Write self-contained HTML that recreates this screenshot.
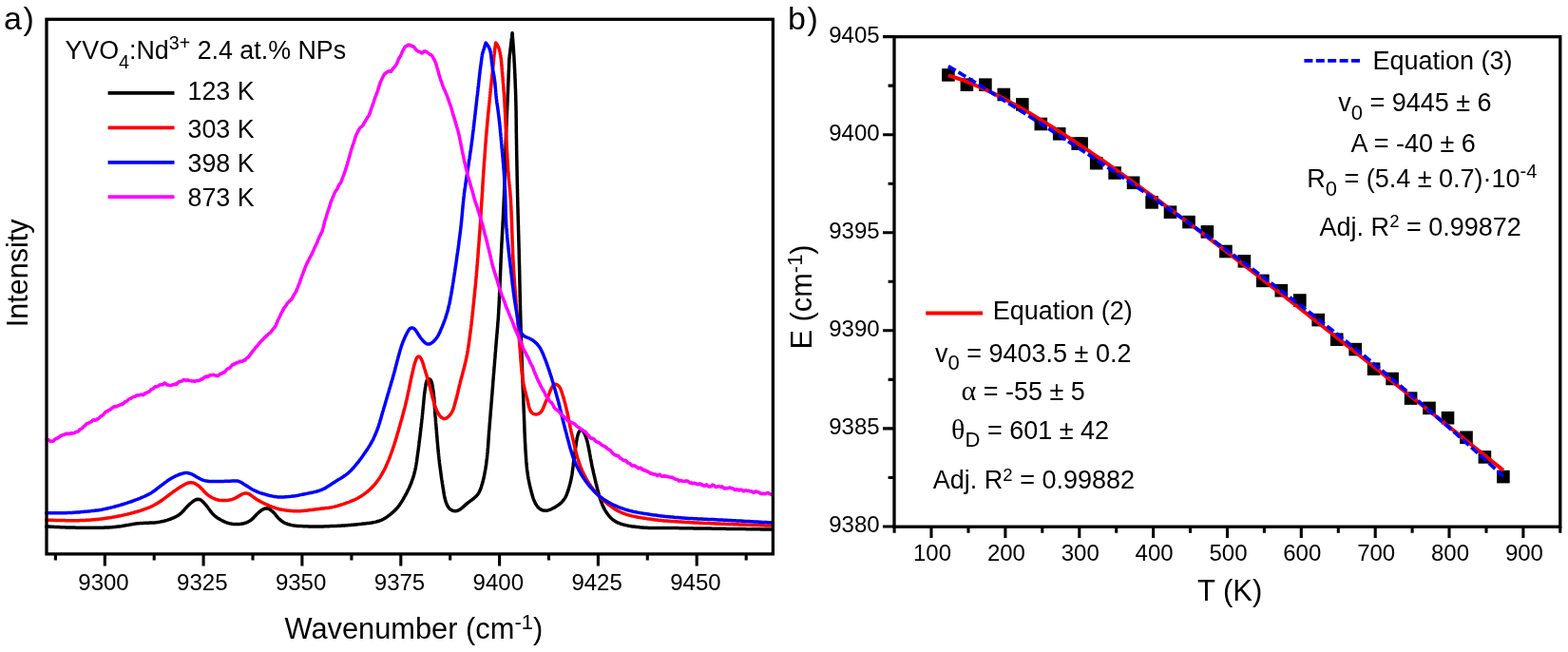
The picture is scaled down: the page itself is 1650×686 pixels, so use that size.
<!DOCTYPE html>
<html><head><meta charset="utf-8"><title>Figure</title>
<style>html,body{margin:0;padding:0;background:#fff;}svg{display:block;}</style>
</head><body>
<svg width="1650" height="686" viewBox="0 0 1650 686"><rect x="0" y="0" width="1650" height="686" fill="#fff"/><g fill="none" stroke-width="3.5" stroke-linejoin="round" stroke-linecap="round"><path d="M48.7,554.0 L50.2,554.1 L51.7,554.1 L53.2,554.2 L54.7,554.3 L56.2,554.3 L57.7,554.4 L59.2,554.5 L60.7,554.5 L62.2,554.6 L63.7,554.7 L65.2,554.7 L66.7,554.8 L68.2,554.8 L69.7,554.9 L71.2,554.9 L72.7,555.0 L74.2,555.0 L75.7,555.1 L77.2,555.1 L78.7,555.1 L80.2,555.2 L81.7,555.2 L83.2,555.2 L84.7,555.2 L86.2,555.2 L87.7,555.3 L89.2,555.3 L90.7,555.3 L92.2,555.3 L93.7,555.3 L95.2,555.3 L96.7,555.3 L98.2,555.3 L99.7,555.3 L101.2,555.3 L102.7,555.3 L104.2,555.2 L105.7,555.2 L107.2,555.2 L108.7,555.2 L110.2,555.1 L111.7,555.0 L113.2,555.0 L114.7,554.9 L116.2,554.8 L117.7,554.7 L119.2,554.6 L120.7,554.5 L122.1,554.3 L123.6,554.1 L125.1,553.9 L126.6,553.7 L128.1,553.5 L129.6,553.2 L131.0,553.0 L132.5,552.7 L134.0,552.4 L135.5,552.2 L136.9,551.9 L138.4,551.7 L139.9,551.4 L141.4,551.2 L142.9,551.0 L144.4,550.8 L145.9,550.7 L147.4,550.6 L148.9,550.5 L150.3,550.4 L151.8,550.3 L153.3,550.3 L154.8,550.2 L156.3,550.2 L157.8,550.1 L159.3,550.1 L160.8,550.0 L162.3,549.9 L163.8,549.7 L165.3,549.6 L166.8,549.4 L168.3,549.1 L169.8,548.8 L171.2,548.5 L172.7,548.2 L174.1,547.8 L175.6,547.4 L177.0,546.9 L178.4,546.5 L179.8,546.0 L181.2,545.4 L182.6,544.8 L184.0,544.2 L185.3,543.5 L186.6,542.8 L187.9,542.0 L189.1,541.1 L190.2,540.2 L191.3,539.2 L192.4,538.1 L193.4,537.0 L194.4,535.9 L195.4,534.7 L196.4,533.6 L197.4,532.5 L198.5,531.5 L199.6,530.4 L200.7,529.5 L201.9,528.5 L203.0,527.6 L204.3,526.8 L205.6,526.0 L206.9,525.5 L208.3,525.2 L209.7,525.4 L211.0,525.9 L212.2,526.7 L213.3,527.7 L214.3,528.8 L215.3,529.9 L216.3,531.0 L217.3,532.1 L218.2,533.3 L219.1,534.5 L220.0,535.7 L220.9,536.9 L221.7,538.2 L222.7,539.3 L223.6,540.5 L224.7,541.5 L225.8,542.6 L226.9,543.5 L228.1,544.4 L229.4,545.2 L230.7,546.0 L231.9,546.8 L233.3,547.5 L234.6,548.2 L236.0,548.8 L237.3,549.4 L238.7,550.0 L240.1,550.4 L241.6,550.8 L243.1,551.1 L244.5,551.3 L246.0,551.4 L247.5,551.5 L249.0,551.6 L250.5,551.5 L252.0,551.4 L253.5,551.3 L255.0,551.0 L256.4,550.7 L257.9,550.3 L259.3,549.8 L260.7,549.2 L262.0,548.5 L263.3,547.8 L264.5,546.9 L265.6,545.9 L266.7,544.9 L267.7,543.8 L268.7,542.7 L269.7,541.6 L270.8,540.5 L271.9,539.5 L273.0,538.5 L274.2,537.6 L275.4,536.7 L276.7,535.9 L278.0,535.3 L279.4,534.9 L280.8,534.8 L282.2,535.1 L283.5,535.7 L284.7,536.5 L285.9,537.4 L287.0,538.4 L288.1,539.4 L289.1,540.5 L290.1,541.7 L291.0,542.9 L291.9,544.0 L292.9,545.2 L293.9,546.2 L295.1,547.2 L296.2,548.1 L297.5,548.9 L298.8,549.7 L300.1,550.4 L301.5,551.0 L302.9,551.5 L304.3,551.9 L305.8,552.3 L307.2,552.6 L308.7,552.9 L310.2,553.1 L311.7,553.2 L313.2,553.4 L314.7,553.5 L316.2,553.6 L317.7,553.6 L319.2,553.7 L320.7,553.7 L322.2,553.8 L323.7,553.8 L325.2,553.9 L326.7,553.9 L328.2,553.9 L329.7,554.0 L331.2,554.0 L332.7,554.0 L334.2,554.0 L335.7,554.0 L337.2,553.9 L338.7,553.9 L340.2,553.9 L341.7,553.8 L343.2,553.8 L344.7,553.7 L346.2,553.7 L347.7,553.6 L349.2,553.6 L350.7,553.5 L352.2,553.4 L353.7,553.4 L355.2,553.3 L356.7,553.2 L358.1,553.2 L359.6,553.1 L361.1,553.0 L362.6,552.9 L364.1,552.8 L365.6,552.7 L367.1,552.6 L368.6,552.5 L370.1,552.3 L371.6,552.2 L373.1,552.0 L374.6,551.9 L376.1,551.7 L377.6,551.6 L379.1,551.4 L380.6,551.3 L382.1,551.1 L383.5,550.9 L385.0,550.8 L386.5,550.6 L388.0,550.4 L389.5,550.2 L391.0,550.0 L392.5,549.7 L393.9,549.4 L395.4,549.1 L396.8,548.7 L398.3,548.3 L399.7,547.8 L401.1,547.3 L402.5,546.7 L403.8,546.0 L405.1,545.2 L406.4,544.4 L407.6,543.6 L408.8,542.7 L410.0,541.8 L411.2,540.9 L412.3,539.9 L413.5,538.9 L414.6,537.9 L415.7,536.9 L416.7,535.8 L417.7,534.7 L418.7,533.6 L419.6,532.4 L420.5,531.2 L421.3,529.9 L422.2,528.7 L423.0,527.4 L423.7,526.1 L424.5,524.8 L425.2,523.5 L426.0,522.2 L426.7,520.9 L427.4,519.6 L428.1,518.3 L428.8,516.9 L429.4,515.6 L430.1,514.2 L430.7,512.9 L431.3,511.5 L431.9,510.1 L432.5,508.7 L433.0,507.3 L433.5,505.9 L434.0,504.5 L434.5,503.1 L435.0,501.7 L435.4,500.2 L435.8,498.8 L436.2,497.3 L436.5,495.9 L436.9,494.4 L437.2,492.9 L437.5,491.5 L437.7,490.0 L438.0,488.5 L438.2,487.0 L438.5,485.6 L438.7,484.1 L438.9,482.6 L439.1,481.1 L439.3,479.6 L439.5,478.1 L439.7,476.6 L439.9,475.2 L440.1,473.7 L440.3,472.2 L440.5,470.7 L440.7,469.2 L440.9,467.7 L441.0,466.2 L441.2,464.7 L441.4,463.2 L441.6,461.8 L441.8,460.3 L442.0,458.8 L442.2,457.3 L442.3,455.8 L442.5,454.3 L442.7,452.8 L442.8,451.3 L443.0,449.8 L443.2,448.4 L443.3,446.9 L443.5,445.4 L443.7,443.9 L443.8,442.4 L444.0,440.9 L444.2,439.4 L444.3,437.9 L444.5,436.4 L444.6,434.9 L444.8,433.4 L444.9,431.9 L445.1,430.5 L445.2,429.0 L445.4,427.5 L445.5,426.0 L445.7,424.5 L445.8,423.0 L445.9,421.5 L446.1,420.0 L446.2,418.5 L446.4,417.0 L446.5,415.5 L446.7,414.0 L446.9,412.5 L447.1,411.1 L447.3,409.6 L447.5,408.1 L447.8,406.6 L448.0,405.1 L448.2,403.7 L448.6,402.2 L449.0,400.8 L449.7,399.7 L450.6,398.9 L451.7,398.8 L452.7,399.3 L453.5,400.4 L454.1,401.7 L454.5,403.1 L454.8,404.6 L455.1,406.0 L455.3,407.5 L455.6,409.0 L455.8,410.5 L456.0,412.0 L456.2,413.5 L456.4,414.9 L456.5,416.4 L456.7,417.9 L456.8,419.4 L456.9,420.9 L457.0,422.4 L457.1,423.9 L457.2,425.4 L457.3,426.9 L457.4,428.4 L457.5,429.9 L457.6,431.4 L457.7,432.9 L457.8,434.4 L457.9,435.9 L458.0,437.4 L458.2,438.9 L458.3,440.4 L458.4,441.9 L458.5,443.4 L458.6,444.9 L458.8,446.4 L458.9,447.8 L459.0,449.3 L459.1,450.8 L459.3,452.3 L459.4,453.8 L459.5,455.3 L459.6,456.8 L459.7,458.3 L459.9,459.8 L460.0,461.3 L460.1,462.8 L460.2,464.3 L460.4,465.8 L460.5,467.3 L460.6,468.8 L460.7,470.3 L460.9,471.8 L461.0,473.3 L461.2,474.8 L461.3,476.2 L461.5,477.7 L461.6,479.2 L461.8,480.7 L461.9,482.2 L462.1,483.7 L462.3,485.2 L462.4,486.7 L462.6,488.2 L462.8,489.7 L463.0,491.1 L463.2,492.6 L463.4,494.1 L463.6,495.6 L463.8,497.1 L464.0,498.6 L464.2,500.1 L464.4,501.6 L464.6,503.0 L464.8,504.5 L465.1,506.0 L465.3,507.5 L465.5,509.0 L465.8,510.5 L466.0,511.9 L466.2,513.4 L466.5,514.9 L466.7,516.4 L466.9,517.9 L467.2,519.3 L467.4,520.8 L467.7,522.3 L468.0,523.8 L468.4,525.2 L468.8,526.7 L469.2,528.1 L469.7,529.5 L470.3,530.9 L470.9,532.2 L471.7,533.5 L472.6,534.7 L473.7,535.7 L474.9,536.5 L476.2,537.2 L477.6,537.6 L479.0,537.8 L480.4,537.6 L481.8,537.2 L483.1,536.5 L484.4,535.7 L485.6,534.9 L486.8,533.9 L487.9,532.9 L489.0,531.9 L490.1,530.9 L491.2,529.9 L492.4,529.0 L493.6,528.1 L494.8,527.2 L496.0,526.3 L497.2,525.4 L498.4,524.5 L499.5,523.5 L500.6,522.5 L501.7,521.4 L502.6,520.3 L503.5,519.1 L504.2,517.8 L504.9,516.4 L505.5,515.1 L506.0,513.7 L506.5,512.2 L506.9,510.8 L507.3,509.4 L507.8,507.9 L508.2,506.5 L508.5,505.0 L508.9,503.6 L509.2,502.1 L509.5,500.6 L509.8,499.2 L510.1,497.7 L510.4,496.2 L510.6,494.7 L510.9,493.3 L511.1,491.8 L511.3,490.3 L511.6,488.8 L511.8,487.3 L511.9,485.8 L512.1,484.4 L512.3,482.9 L512.5,481.4 L512.6,479.9 L512.8,478.4 L512.9,476.9 L513.1,475.4 L513.2,473.9 L513.3,472.4 L513.5,470.9 L513.6,469.4 L513.7,467.9 L513.8,466.4 L513.9,464.9 L514.0,463.4 L514.1,461.9 L514.2,460.4 L514.3,459.0 L514.4,457.5 L514.5,456.0 L514.6,454.5 L514.7,453.0 L514.9,451.5 L515.0,450.0 L515.1,448.5 L515.2,447.0 L515.3,445.5 L515.5,444.0 L515.6,442.5 L515.7,441.0 L515.8,439.5 L516.0,438.0 L516.1,436.5 L516.2,435.0 L516.3,433.5 L516.4,432.0 L516.6,430.5 L516.7,429.0 L516.8,427.6 L516.9,426.1 L517.0,424.6 L517.2,423.1 L517.3,421.6 L517.4,420.1 L517.5,418.6 L517.6,417.1 L517.8,415.6 L517.9,414.1 L518.0,412.6 L518.1,411.1 L518.2,409.6 L518.4,408.1 L518.5,406.6 L518.6,405.1 L518.7,403.6 L518.8,402.1 L518.9,400.6 L519.1,399.1 L519.2,397.6 L519.3,396.2 L519.4,394.7 L519.5,393.2 L519.7,391.7 L519.8,390.2 L519.9,388.7 L520.0,387.2 L520.1,385.7 L520.3,384.2 L520.4,382.7 L520.5,381.2 L520.6,379.7 L520.7,378.2 L520.9,376.7 L521.0,375.2 L521.1,373.7 L521.2,372.2 L521.3,370.7 L521.5,369.2 L521.6,367.7 L521.7,366.2 L521.8,364.8 L521.9,363.3 L522.1,361.8 L522.2,360.3 L522.3,358.8 L522.4,357.3 L522.6,355.8 L522.7,354.3 L522.8,352.8 L523.0,351.3 L523.1,349.8 L523.2,348.3 L523.3,346.8 L523.5,345.3 L523.6,343.8 L523.7,342.3 L523.8,340.8 L523.9,339.3 L524.1,337.8 L524.2,336.3 L524.3,334.9 L524.4,333.4 L524.5,331.9 L524.6,330.4 L524.7,328.9 L524.7,327.4 L524.8,325.9 L524.9,324.4 L525.0,322.9 L525.1,321.4 L525.2,319.9 L525.2,318.4 L525.3,316.9 L525.4,315.4 L525.4,313.9 L525.5,312.4 L525.6,310.9 L525.6,309.4 L525.7,307.9 L525.8,306.4 L525.8,304.9 L525.9,303.4 L526.0,301.9 L526.0,300.4 L526.1,298.9 L526.2,297.4 L526.2,295.9 L526.3,294.4 L526.3,292.9 L526.4,291.4 L526.5,289.9 L526.5,288.4 L526.6,286.9 L526.6,285.4 L526.7,283.9 L526.8,282.4 L526.8,280.9 L526.9,279.4 L526.9,277.9 L527.0,276.4 L527.1,274.9 L527.1,273.4 L527.2,271.9 L527.3,270.4 L527.3,268.9 L527.4,267.4 L527.5,265.9 L527.6,264.4 L527.6,262.9 L527.7,261.4 L527.8,259.9 L527.8,258.4 L527.9,256.9 L528.0,255.4 L528.1,253.9 L528.2,252.4 L528.2,250.9 L528.3,249.5 L528.4,248.0 L528.5,246.5 L528.6,245.0 L528.6,243.5 L528.7,242.0 L528.8,240.5 L528.9,239.0 L529.0,237.5 L529.0,236.0 L529.1,234.5 L529.2,233.0 L529.3,231.5 L529.4,230.0 L529.4,228.5 L529.5,227.0 L529.6,225.5 L529.7,224.0 L529.7,222.5 L529.8,221.0 L529.9,219.5 L529.9,218.0 L530.0,216.5 L530.1,215.0 L530.1,213.5 L530.2,212.0 L530.3,210.5 L530.3,209.0 L530.4,207.5 L530.5,206.0 L530.5,204.5 L530.6,203.0 L530.6,201.5 L530.7,200.0 L530.7,198.5 L530.8,197.0 L530.8,195.5 L530.9,194.0 L530.9,192.5 L531.0,191.0 L531.0,189.5 L531.1,188.0 L531.1,186.5 L531.2,185.0 L531.2,183.5 L531.3,182.0 L531.3,180.5 L531.4,179.0 L531.4,177.5 L531.5,176.0 L531.5,174.5 L531.5,173.0 L531.6,171.5 L531.6,170.0 L531.7,168.5 L531.7,167.0 L531.8,165.5 L531.8,164.0 L531.9,162.5 L531.9,161.0 L532.0,159.5 L532.0,158.0 L532.0,156.5 L532.1,155.0 L532.1,153.5 L532.2,152.0 L532.2,150.5 L532.3,149.0 L532.3,147.5 L532.4,146.0 L532.4,144.5 L532.5,143.0 L532.5,141.5 L532.6,140.0 L532.7,138.5 L532.7,137.0 L532.8,135.5 L532.8,134.0 L532.9,132.5 L533.0,131.0 L533.0,129.5 L533.1,128.0 L533.1,126.5 L533.2,125.1 L533.3,123.6 L533.3,122.1 L533.4,120.6 L533.5,119.1 L533.5,117.6 L533.6,116.1 L533.7,114.6 L533.7,113.1 L533.8,111.6 L533.9,110.1 L533.9,108.6 L534.0,107.1 L534.1,105.6 L534.1,104.1 L534.2,102.6 L534.3,101.1 L534.3,99.6 L534.4,98.1 L534.5,96.6 L534.5,95.1 L534.6,93.6 L534.6,92.1 L534.7,90.6 L534.8,89.1 L534.8,87.6 L534.9,86.1 L535.0,84.6 L535.0,83.1 L535.1,81.6 L535.1,80.1 L535.2,78.6 L535.3,77.1 L535.3,75.6 L535.4,74.1 L535.5,72.6 L535.5,71.1 L535.6,69.6 L535.6,68.1 L535.7,66.6 L535.8,65.1 L535.8,63.6 L535.9,62.1 L536.1,60.5 L536.2,59.0 L536.4,57.5 L536.6,56.0 L536.8,54.6 L536.9,53.1 L537.1,51.6 L537.3,50.1 L537.5,48.6 L537.6,47.1 L537.8,45.6 L538.0,44.1 L538.2,42.6 L538.3,41.1 L538.5,39.7 L538.7,38.2 L538.8,36.7 L539.0,35.2 L539.1,34.7 L539.2,36.0 L539.3,37.5 L539.4,39.0 L539.5,40.5 L539.7,42.0 L539.8,43.5 L539.9,45.0 L540.0,46.5 L540.1,48.0 L540.2,49.5 L540.3,51.0 L540.4,52.5 L540.5,53.9 L540.6,55.4 L540.7,56.9 L540.8,58.4 L540.9,59.9 L541.0,61.4 L541.0,62.9 L541.1,64.4 L541.2,65.9 L541.3,67.4 L541.4,68.9 L541.4,70.4 L541.5,71.9 L541.6,73.4 L541.7,74.9 L541.7,76.4 L541.8,77.9 L541.9,79.4 L541.9,80.9 L542.0,82.4 L542.1,83.9 L542.1,85.4 L542.2,86.9 L542.2,88.4 L542.3,89.9 L542.3,91.4 L542.4,92.9 L542.5,94.4 L542.5,95.9 L542.6,97.4 L542.6,98.9 L542.7,100.4 L542.7,101.9 L542.7,103.4 L542.8,104.9 L542.8,106.4 L542.9,107.9 L542.9,109.4 L542.9,110.9 L543.0,112.4 L543.0,113.9 L543.0,115.4 L543.1,116.9 L543.1,118.4 L543.1,119.9 L543.1,121.4 L543.1,122.9 L543.2,124.4 L543.2,125.9 L543.2,127.4 L543.2,128.9 L543.2,130.4 L543.3,131.9 L543.3,133.4 L543.3,134.9 L543.3,136.4 L543.3,137.9 L543.3,139.4 L543.4,140.9 L543.4,142.4 L543.4,143.9 L543.4,145.4 L543.5,146.9 L543.5,148.4 L543.5,149.9 L543.5,151.4 L543.6,152.9 L543.6,154.4 L543.6,155.9 L543.6,157.4 L543.7,158.9 L543.7,160.4 L543.7,161.9 L543.7,163.4 L543.8,164.9 L543.8,166.4 L543.8,167.9 L543.9,169.4 L543.9,170.9 L543.9,172.4 L543.9,173.9 L544.0,175.4 L544.0,176.9 L544.0,178.4 L544.1,179.9 L544.1,181.4 L544.1,182.9 L544.1,184.4 L544.2,185.9 L544.2,187.4 L544.2,188.9 L544.3,190.4 L544.3,191.9 L544.3,193.4 L544.4,194.9 L544.4,196.4 L544.4,197.9 L544.5,199.4 L544.5,200.9 L544.5,202.4 L544.6,203.9 L544.6,205.4 L544.6,206.9 L544.7,208.4 L544.7,209.9 L544.7,211.4 L544.8,212.9 L544.8,214.4 L544.8,215.9 L544.9,217.4 L544.9,218.9 L545.0,220.4 L545.0,221.9 L545.0,223.4 L545.1,224.9 L545.1,226.4 L545.2,227.9 L545.2,229.4 L545.2,230.9 L545.3,232.4 L545.3,233.9 L545.4,235.4 L545.4,236.9 L545.5,238.4 L545.5,239.9 L545.5,241.4 L545.6,242.9 L545.6,244.4 L545.7,245.9 L545.7,247.4 L545.8,248.9 L545.8,250.4 L545.8,251.9 L545.9,253.4 L545.9,254.9 L546.0,256.4 L546.0,257.9 L546.0,259.4 L546.1,260.9 L546.1,262.4 L546.2,263.9 L546.2,265.4 L546.2,266.9 L546.3,268.4 L546.3,269.9 L546.3,271.4 L546.4,272.9 L546.4,274.4 L546.4,275.9 L546.5,277.4 L546.5,278.9 L546.6,280.4 L546.6,281.9 L546.6,283.4 L546.7,284.9 L546.7,286.4 L546.7,287.9 L546.8,289.4 L546.8,290.9 L546.8,292.3 L546.8,293.8 L546.9,295.3 L546.9,296.8 L546.9,298.3 L547.0,299.8 L547.0,301.3 L547.0,302.8 L547.1,304.3 L547.1,305.8 L547.1,307.3 L547.2,308.8 L547.2,310.3 L547.2,311.8 L547.3,313.3 L547.3,314.8 L547.3,316.3 L547.4,317.8 L547.4,319.3 L547.4,320.8 L547.5,322.3 L547.5,323.8 L547.5,325.3 L547.6,326.8 L547.6,328.3 L547.7,329.8 L547.7,331.3 L547.7,332.8 L547.8,334.3 L547.8,335.8 L547.9,337.3 L547.9,338.8 L547.9,340.3 L548.0,341.8 L548.0,343.3 L548.1,344.8 L548.1,346.3 L548.1,347.8 L548.2,349.3 L548.2,350.8 L548.3,352.3 L548.3,353.8 L548.4,355.3 L548.4,356.8 L548.5,358.3 L548.5,359.8 L548.6,361.3 L548.6,362.8 L548.7,364.3 L548.7,365.8 L548.8,367.3 L548.8,368.8 L548.9,370.3 L548.9,371.8 L549.0,373.3 L549.0,374.8 L549.1,376.3 L549.2,377.8 L549.2,379.3 L549.3,380.8 L549.3,382.3 L549.4,383.8 L549.4,385.3 L549.5,386.8 L549.5,388.3 L549.6,389.8 L549.6,391.3 L549.7,392.8 L549.8,394.3 L549.8,395.8 L549.9,397.3 L549.9,398.8 L550.0,400.3 L550.0,401.8 L550.1,403.3 L550.2,404.8 L550.2,406.3 L550.3,407.8 L550.3,409.3 L550.4,410.8 L550.4,412.3 L550.5,413.8 L550.6,415.3 L550.6,416.8 L550.7,418.3 L550.7,419.8 L550.8,421.3 L550.8,422.8 L550.9,424.3 L551.0,425.8 L551.0,427.3 L551.1,428.8 L551.1,430.3 L551.2,431.8 L551.3,433.3 L551.3,434.8 L551.4,436.3 L551.4,437.8 L551.5,439.3 L551.5,440.8 L551.6,442.3 L551.7,443.8 L551.7,445.3 L551.8,446.8 L551.8,448.3 L551.9,449.8 L551.9,451.3 L552.0,452.8 L552.0,454.3 L552.1,455.8 L552.2,457.3 L552.2,458.8 L552.3,460.3 L552.4,461.8 L552.4,463.3 L552.5,464.8 L552.6,466.2 L552.7,467.7 L552.8,469.2 L552.8,470.7 L552.9,472.2 L553.0,473.7 L553.1,475.2 L553.2,476.7 L553.3,478.2 L553.4,479.7 L553.5,481.2 L553.6,482.7 L553.7,484.2 L553.8,485.7 L554.0,487.2 L554.1,488.7 L554.2,490.2 L554.4,491.7 L554.5,493.2 L554.7,494.7 L554.9,496.2 L555.1,497.6 L555.3,499.1 L555.5,500.6 L555.8,502.1 L556.0,503.6 L556.3,505.0 L556.6,506.5 L556.9,508.0 L557.2,509.5 L557.5,510.9 L557.9,512.4 L558.2,513.8 L558.6,515.3 L559.0,516.7 L559.3,518.2 L559.7,519.6 L560.1,521.1 L560.6,522.5 L561.0,524.0 L561.5,525.4 L562.1,526.8 L562.7,528.1 L563.3,529.5 L564.1,530.8 L564.9,532.0 L565.8,533.2 L566.8,534.3 L567.9,535.2 L569.2,536.1 L570.5,536.7 L571.9,537.1 L573.3,537.3 L574.8,537.2 L576.3,537.0 L577.7,536.6 L579.1,536.1 L580.5,535.5 L581.8,534.8 L583.2,534.1 L584.5,533.4 L585.7,532.6 L587.0,531.8 L588.2,530.9 L589.4,530.0 L590.5,529.0 L591.5,527.9 L592.5,526.8 L593.4,525.6 L594.2,524.4 L595.0,523.1 L595.7,521.7 L596.3,520.4 L596.8,519.0 L597.3,517.6 L597.8,516.1 L598.3,514.7 L598.7,513.3 L599.1,511.8 L599.5,510.4 L599.9,508.9 L600.2,507.5 L600.6,506.0 L600.9,504.6 L601.2,503.1 L601.5,501.6 L601.8,500.1 L602.0,498.7 L602.2,497.2 L602.4,495.7 L602.6,494.2 L602.8,492.7 L603.0,491.2 L603.2,489.7 L603.3,488.3 L603.5,486.8 L603.7,485.3 L603.9,483.8 L604.1,482.3 L604.3,480.8 L604.5,479.3 L604.7,477.8 L604.9,476.4 L605.1,474.9 L605.3,473.4 L605.5,471.9 L605.8,470.4 L606.0,468.9 L606.2,467.4 L606.4,466.0 L606.6,464.5 L606.9,463.0 L607.1,461.5 L607.4,460.1 L607.8,458.6 L608.2,457.2 L608.7,455.8 L609.3,454.4 L610.0,453.3 L610.9,452.6 L612.0,452.6 L613.0,453.2 L613.9,454.2 L614.7,455.5 L615.3,456.8 L615.9,458.1 L616.5,459.5 L616.9,461.0 L617.4,462.4 L617.8,463.8 L618.2,465.3 L618.5,466.8 L618.8,468.2 L619.1,469.7 L619.4,471.2 L619.7,472.6 L620.0,474.1 L620.3,475.6 L620.5,477.1 L620.8,478.5 L621.1,480.0 L621.3,481.5 L621.6,483.0 L621.9,484.4 L622.2,485.9 L622.4,487.4 L622.7,488.9 L623.0,490.3 L623.3,491.8 L623.6,493.3 L624.0,494.7 L624.3,496.2 L624.6,497.7 L625.0,499.1 L625.3,500.6 L625.6,502.0 L626.0,503.5 L626.3,505.0 L626.7,506.4 L627.0,507.9 L627.4,509.3 L627.7,510.8 L628.1,512.2 L628.5,513.7 L628.8,515.2 L629.2,516.6 L629.6,518.1 L630.0,519.5 L630.4,520.9 L630.8,522.4 L631.3,523.8 L631.7,525.2 L632.2,526.7 L632.7,528.1 L633.3,529.5 L633.8,530.9 L634.4,532.2 L635.0,533.6 L635.7,534.9 L636.4,536.3 L637.2,537.6 L637.9,538.8 L638.8,540.1 L639.7,541.3 L640.6,542.5 L641.6,543.6 L642.6,544.7 L643.7,545.7 L644.8,546.7 L646.0,547.6 L647.3,548.4 L648.6,549.2 L649.9,549.8 L651.3,550.4 L652.7,551.0 L654.1,551.4 L655.5,551.9 L657.0,552.2 L658.4,552.6 L659.9,552.9 L661.4,553.2 L662.9,553.4 L664.3,553.7 L665.8,553.9 L667.3,554.1 L668.8,554.3 L670.3,554.5 L671.8,554.6 L673.3,554.8 L674.8,554.9 L676.2,555.0 L677.7,555.2 L679.2,555.3 L680.7,555.3 L682.2,555.4 L683.7,555.5 L685.2,555.5 L686.7,555.5 L688.2,555.6 L689.7,555.6 L691.2,555.6 L692.7,555.6 L694.2,555.6 L695.7,555.6 L697.2,555.6 L698.7,555.6 L700.2,555.6 L701.7,555.6 L703.2,555.6 L704.7,555.6 L706.2,555.6 L707.7,555.6 L709.2,555.6 L710.7,555.6 L712.2,555.6 L713.7,555.6 L715.2,555.7 L716.7,555.7 L718.2,555.7 L719.7,555.7 L721.2,555.7 L722.7,555.7 L724.2,555.8 L725.7,555.8 L727.2,555.8 L728.7,555.8 L730.2,555.9 L731.7,555.9 L733.2,555.9 L734.7,555.9 L736.2,556.0 L737.7,556.0 L739.2,556.0 L740.7,556.0 L742.2,556.0 L743.7,556.1 L745.2,556.1 L746.7,556.1 L748.2,556.1 L749.7,556.2 L751.2,556.2 L752.7,556.2 L754.2,556.2 L755.7,556.2 L757.2,556.3 L758.7,556.3 L760.2,556.3 L761.7,556.3 L763.2,556.3 L764.7,556.4 L766.2,556.4 L767.7,556.4 L769.2,556.4 L770.7,556.4 L772.2,556.5 L773.7,556.5 L775.2,556.5 L776.7,556.5 L778.2,556.6 L779.7,556.6 L781.2,556.6 L782.7,556.6 L784.2,556.6 L785.7,556.7 L787.2,556.7 L788.7,556.7 L790.2,556.7 L791.7,556.7 L793.2,556.8 L794.7,556.8 L796.2,556.8 L797.7,556.8 L799.2,556.8 L800.7,556.9 L802.2,556.9 L803.7,556.9 L805.2,556.9 L806.7,556.9 L808.2,557.0 L809.7,557.0 L811.2,557.0 L811.7,557.0" stroke="#000"/><path d="M48.7,547.1 L50.2,547.2 L51.7,547.2 L53.2,547.3 L54.7,547.3 L56.2,547.3 L57.7,547.4 L59.2,547.4 L60.7,547.5 L62.2,547.5 L63.7,547.6 L65.2,547.6 L66.7,547.6 L68.2,547.6 L69.7,547.7 L71.2,547.7 L72.7,547.7 L74.2,547.7 L75.7,547.7 L77.2,547.7 L78.7,547.7 L80.2,547.7 L81.7,547.7 L83.2,547.7 L84.7,547.6 L86.2,547.6 L87.7,547.5 L89.2,547.4 L90.7,547.3 L92.2,547.3 L93.7,547.2 L95.2,547.1 L96.7,546.9 L98.2,546.8 L99.7,546.7 L101.2,546.5 L102.6,546.4 L104.1,546.2 L105.6,546.1 L107.1,545.9 L108.6,545.7 L110.1,545.5 L111.6,545.3 L113.1,545.1 L114.5,544.9 L116.0,544.6 L117.5,544.4 L119.0,544.1 L120.5,543.9 L121.9,543.6 L123.4,543.3 L124.9,543.0 L126.4,542.7 L127.8,542.4 L129.3,542.1 L130.7,541.8 L132.2,541.4 L133.7,541.1 L135.1,540.7 L136.6,540.4 L138.0,540.0 L139.5,539.6 L140.9,539.2 L142.4,538.8 L143.8,538.4 L145.3,538.0 L146.7,537.6 L148.1,537.2 L149.6,536.7 L151.0,536.2 L152.4,535.7 L153.8,535.2 L155.2,534.7 L156.6,534.1 L158.0,533.5 L159.3,532.9 L160.7,532.2 L162.0,531.5 L163.3,530.8 L164.6,530.1 L165.9,529.3 L167.2,528.5 L168.4,527.7 L169.7,526.8 L170.9,526.0 L172.1,525.1 L173.3,524.2 L174.5,523.3 L175.7,522.4 L176.9,521.5 L178.1,520.6 L179.3,519.7 L180.5,518.8 L181.7,517.9 L182.9,517.0 L184.2,516.2 L185.4,515.3 L186.6,514.4 L187.9,513.6 L189.1,512.8 L190.4,512.0 L191.7,511.2 L193.0,510.4 L194.3,509.8 L195.6,509.1 L197.0,508.5 L198.4,508.0 L199.9,507.7 L201.3,507.7 L202.8,507.9 L204.2,508.3 L205.5,508.9 L206.8,509.7 L208.0,510.5 L209.2,511.4 L210.4,512.4 L211.4,513.4 L212.5,514.5 L213.5,515.6 L214.5,516.7 L215.5,517.8 L216.6,518.9 L217.7,519.9 L218.8,520.8 L220.0,521.7 L221.3,522.5 L222.6,523.3 L223.9,524.0 L225.3,524.6 L226.7,525.2 L228.1,525.6 L229.5,526.0 L231.0,526.3 L232.5,526.5 L233.9,526.6 L235.4,526.6 L236.9,526.5 L238.4,526.4 L239.9,526.3 L241.4,526.1 L242.9,525.8 L244.3,525.4 L245.7,524.9 L247.1,524.3 L248.4,523.6 L249.7,522.9 L251.0,522.1 L252.3,521.4 L253.6,520.6 L254.9,519.9 L256.3,519.4 L257.7,519.0 L259.1,518.9 L260.6,519.2 L261.9,519.7 L263.2,520.4 L264.4,521.3 L265.6,522.2 L266.8,523.1 L268.0,524.0 L269.2,524.8 L270.5,525.7 L271.8,526.4 L273.1,527.1 L274.4,527.9 L275.7,528.5 L277.1,529.2 L278.4,529.9 L279.8,530.5 L281.2,531.1 L282.5,531.7 L283.9,532.3 L285.3,532.8 L286.7,533.4 L288.1,533.9 L289.5,534.4 L291.0,534.9 L292.4,535.3 L293.9,535.7 L295.3,536.0 L296.8,536.3 L298.3,536.5 L299.7,536.8 L301.2,537.0 L302.7,537.2 L304.2,537.3 L305.7,537.5 L307.2,537.6 L308.7,537.7 L310.2,537.7 L311.7,537.8 L313.2,537.8 L314.7,537.7 L316.2,537.7 L317.7,537.6 L319.2,537.5 L320.7,537.3 L322.2,537.2 L323.7,537.0 L325.1,536.8 L326.6,536.6 L328.1,536.4 L329.6,536.2 L331.1,536.0 L332.6,535.8 L334.1,535.7 L335.6,535.5 L337.0,535.3 L338.5,535.1 L340.0,535.0 L341.5,534.8 L343.0,534.6 L344.5,534.4 L346.0,534.2 L347.5,533.9 L348.9,533.7 L350.4,533.4 L351.9,533.1 L353.3,532.7 L354.8,532.4 L356.2,531.9 L357.7,531.5 L359.1,531.0 L360.5,530.6 L361.9,530.1 L363.3,529.6 L364.7,529.1 L366.2,528.6 L367.6,528.1 L369.0,527.5 L370.4,527.0 L371.7,526.4 L373.1,525.8 L374.5,525.1 L375.8,524.5 L377.1,523.8 L378.4,523.0 L379.7,522.3 L381.0,521.4 L382.2,520.6 L383.4,519.7 L384.6,518.8 L385.8,517.9 L387.0,517.0 L388.1,516.0 L389.2,515.0 L390.3,513.9 L391.4,512.9 L392.4,511.8 L393.4,510.7 L394.4,509.6 L395.4,508.4 L396.3,507.2 L397.2,506.0 L398.1,504.8 L398.9,503.6 L399.7,502.3 L400.5,501.1 L401.3,499.8 L402.1,498.5 L402.8,497.2 L403.5,495.9 L404.3,494.5 L404.9,493.2 L405.6,491.9 L406.2,490.5 L406.8,489.1 L407.4,487.8 L408.0,486.4 L408.6,485.0 L409.2,483.6 L409.7,482.2 L410.3,480.8 L410.8,479.4 L411.3,478.0 L411.8,476.6 L412.3,475.2 L412.8,473.8 L413.3,472.3 L413.8,470.9 L414.2,469.5 L414.7,468.1 L415.2,466.6 L415.6,465.2 L416.1,463.8 L416.5,462.3 L417.0,460.9 L417.4,459.5 L417.8,458.0 L418.2,456.6 L418.7,455.2 L419.1,453.7 L419.5,452.3 L419.9,450.8 L420.3,449.4 L420.7,447.9 L421.1,446.5 L421.5,445.1 L421.9,443.6 L422.3,442.2 L422.8,440.7 L423.2,439.3 L423.6,437.8 L423.9,436.4 L424.3,434.9 L424.7,433.5 L425.1,432.0 L425.5,430.6 L425.9,429.1 L426.2,427.7 L426.6,426.2 L426.9,424.8 L427.3,423.3 L427.6,421.9 L428.0,420.4 L428.3,418.9 L428.6,417.5 L428.9,416.0 L429.2,414.5 L429.5,413.1 L429.8,411.6 L430.2,410.1 L430.5,408.6 L430.8,407.2 L431.1,405.7 L431.4,404.2 L431.7,402.8 L432.0,401.3 L432.3,399.8 L432.6,398.4 L432.9,396.9 L433.2,395.4 L433.6,394.0 L433.9,392.5 L434.2,391.1 L434.6,389.6 L434.9,388.1 L435.3,386.7 L435.6,385.2 L436.0,383.8 L436.4,382.3 L436.9,380.9 L437.4,379.5 L437.9,378.1 L438.5,376.8 L439.3,375.7 L440.2,375.1 L441.1,375.2 L442.1,376.0 L442.9,377.1 L443.6,378.4 L444.2,379.7 L444.7,381.1 L445.2,382.6 L445.6,384.0 L446.0,385.4 L446.5,386.9 L446.9,388.3 L447.4,389.7 L447.8,391.2 L448.2,392.6 L448.7,394.0 L449.1,395.5 L449.5,396.9 L449.9,398.4 L450.4,399.8 L450.8,401.2 L451.2,402.7 L451.6,404.1 L452.0,405.6 L452.4,407.0 L452.8,408.5 L453.1,409.9 L453.5,411.4 L453.8,412.8 L454.2,414.3 L454.6,415.8 L454.9,417.2 L455.3,418.7 L455.7,420.1 L456.1,421.6 L456.5,423.0 L456.9,424.4 L457.3,425.9 L457.8,427.3 L458.3,428.7 L458.9,430.1 L459.4,431.5 L460.1,432.9 L460.7,434.2 L461.5,435.5 L462.3,436.8 L463.2,437.9 L464.2,439.0 L465.4,439.8 L466.6,440.4 L468.0,440.5 L469.3,440.1 L470.6,439.4 L471.7,438.5 L472.8,437.5 L473.7,436.3 L474.6,435.1 L475.4,433.9 L476.1,432.5 L476.7,431.2 L477.2,429.8 L477.7,428.3 L478.1,426.9 L478.5,425.5 L478.9,424.0 L479.3,422.6 L479.7,421.1 L480.1,419.7 L480.5,418.2 L480.9,416.8 L481.2,415.3 L481.6,413.9 L481.9,412.4 L482.2,410.9 L482.6,409.5 L482.9,408.0 L483.3,406.6 L483.6,405.1 L484.0,403.6 L484.3,402.2 L484.7,400.7 L485.1,399.3 L485.5,397.8 L485.9,396.4 L486.3,394.9 L486.7,393.5 L487.0,392.0 L487.4,390.6 L487.8,389.1 L488.2,387.7 L488.6,386.2 L488.9,384.8 L489.3,383.3 L489.6,381.9 L490.0,380.4 L490.3,378.9 L490.6,377.5 L490.9,376.0 L491.2,374.5 L491.5,373.1 L491.8,371.6 L492.0,370.1 L492.3,368.6 L492.5,367.1 L492.7,365.7 L493.0,364.2 L493.2,362.7 L493.4,361.2 L493.6,359.7 L493.8,358.2 L494.0,356.8 L494.2,355.3 L494.4,353.8 L494.6,352.3 L494.8,350.8 L495.0,349.3 L495.2,347.8 L495.4,346.3 L495.6,344.9 L495.7,343.4 L495.9,341.9 L496.1,340.4 L496.2,338.9 L496.4,337.4 L496.6,335.9 L496.8,334.4 L496.9,332.9 L497.1,331.4 L497.2,330.0 L497.4,328.5 L497.6,327.0 L497.7,325.5 L497.9,324.0 L498.0,322.5 L498.2,321.0 L498.4,319.5 L498.5,318.0 L498.7,316.5 L498.8,315.0 L499.0,313.5 L499.1,312.1 L499.3,310.6 L499.4,309.1 L499.6,307.6 L499.7,306.1 L499.9,304.6 L500.0,303.1 L500.2,301.6 L500.3,300.1 L500.5,298.6 L500.6,297.1 L500.7,295.6 L500.9,294.1 L501.0,292.6 L501.1,291.1 L501.3,289.7 L501.4,288.2 L501.5,286.7 L501.6,285.2 L501.8,283.7 L501.9,282.2 L502.0,280.7 L502.1,279.2 L502.3,277.7 L502.4,276.2 L502.5,274.7 L502.6,273.2 L502.7,271.7 L502.9,270.2 L503.0,268.7 L503.1,267.2 L503.2,265.7 L503.3,264.2 L503.4,262.7 L503.5,261.2 L503.7,259.7 L503.8,258.3 L503.9,256.8 L504.0,255.3 L504.1,253.8 L504.2,252.3 L504.3,250.8 L504.4,249.3 L504.5,247.8 L504.7,246.3 L504.8,244.8 L504.9,243.3 L505.0,241.8 L505.1,240.3 L505.2,238.8 L505.3,237.3 L505.4,235.8 L505.5,234.3 L505.6,232.8 L505.7,231.3 L505.8,229.8 L505.9,228.3 L506.0,226.8 L506.1,225.3 L506.2,223.8 L506.2,222.3 L506.3,220.8 L506.4,219.3 L506.5,217.8 L506.6,216.4 L506.7,214.9 L506.8,213.4 L506.9,211.9 L507.0,210.4 L507.1,208.9 L507.2,207.4 L507.3,205.9 L507.4,204.4 L507.5,202.9 L507.6,201.4 L507.7,199.9 L507.7,198.4 L507.8,196.9 L507.9,195.4 L508.0,193.9 L508.1,192.4 L508.2,190.9 L508.3,189.4 L508.4,187.9 L508.5,186.4 L508.6,184.9 L508.7,183.4 L508.8,181.9 L508.9,180.4 L509.0,178.9 L509.1,177.4 L509.2,175.9 L509.3,174.4 L509.4,172.9 L509.5,171.4 L509.6,170.0 L509.7,168.5 L509.9,167.0 L510.0,165.5 L510.1,164.0 L510.2,162.5 L510.3,161.0 L510.4,159.5 L510.5,158.0 L510.6,156.5 L510.7,155.0 L510.8,153.5 L510.9,152.0 L511.0,150.5 L511.2,149.0 L511.3,147.5 L511.4,146.0 L511.5,144.5 L511.6,143.0 L511.8,141.5 L511.9,140.0 L512.0,138.5 L512.2,137.0 L512.3,135.6 L512.4,134.1 L512.6,132.6 L512.7,131.1 L512.8,129.6 L513.0,128.1 L513.1,126.6 L513.2,125.1 L513.4,123.6 L513.5,122.1 L513.7,120.6 L513.8,119.1 L514.0,117.6 L514.1,116.1 L514.3,114.6 L514.4,113.2 L514.5,111.7 L514.7,110.2 L514.8,108.7 L515.0,107.2 L515.1,105.7 L515.3,104.2 L515.4,102.7 L515.6,101.2 L515.7,99.7 L515.9,98.2 L516.0,96.7 L516.2,95.2 L516.3,93.7 L516.5,92.3 L516.7,90.8 L516.8,89.3 L517.0,87.8 L517.1,86.3 L517.3,84.8 L517.4,83.3 L517.6,81.8 L517.7,80.3 L517.9,78.8 L518.1,77.3 L518.2,75.8 L518.4,74.4 L518.5,72.9 L518.7,71.4 L518.8,69.9 L519.0,68.4 L519.1,66.9 L519.3,65.4 L519.4,63.9 L519.6,62.4 L519.7,60.9 L519.9,59.4 L520.0,57.9 L520.2,56.4 L520.4,54.5 L520.6,53.0 L520.8,51.5 L521.0,50.1 L521.2,48.6 L521.4,47.1 L521.6,45.6 L521.6,45.1 L522.5,45.9 L523.3,47.2 L524.0,48.5 L524.6,49.8 L525.1,51.2 L525.6,52.7 L525.9,54.1 L526.3,55.6 L526.5,57.0 L526.8,58.5 L527.0,60.0 L527.2,61.5 L527.4,63.0 L527.5,64.5 L527.7,66.0 L527.8,67.5 L527.9,69.0 L528.1,70.4 L528.2,71.9 L528.3,73.4 L528.4,74.9 L528.6,76.4 L528.7,77.9 L528.8,79.4 L529.0,80.9 L529.1,82.4 L529.2,83.9 L529.3,85.4 L529.4,86.9 L529.6,88.4 L529.7,89.9 L529.8,91.4 L529.9,92.9 L530.0,94.4 L530.1,95.9 L530.3,97.4 L530.4,98.9 L530.5,100.4 L530.6,101.8 L530.7,103.3 L530.8,104.8 L530.9,106.3 L531.0,107.8 L531.1,109.3 L531.1,110.8 L531.2,112.3 L531.3,113.8 L531.4,115.3 L531.4,116.8 L531.5,118.3 L531.6,119.8 L531.7,121.3 L531.7,122.8 L531.8,124.3 L531.9,125.8 L532.0,127.3 L532.0,128.8 L532.1,130.3 L532.2,131.8 L532.2,133.3 L532.3,134.8 L532.4,136.3 L532.5,137.8 L532.5,139.3 L532.6,140.8 L532.7,142.3 L532.8,143.8 L532.8,145.3 L532.9,146.8 L533.0,148.3 L533.1,149.8 L533.1,151.3 L533.2,152.8 L533.3,154.3 L533.4,155.8 L533.4,157.3 L533.5,158.8 L533.6,160.3 L533.7,161.8 L533.8,163.3 L533.8,164.8 L533.9,166.3 L534.0,167.8 L534.1,169.3 L534.2,170.8 L534.3,172.2 L534.4,173.7 L534.5,175.2 L534.5,176.7 L534.6,178.2 L534.7,179.7 L534.9,181.2 L535.0,182.7 L535.1,184.2 L535.2,185.7 L535.3,187.2 L535.5,188.7 L535.6,190.2 L535.8,191.7 L535.9,193.2 L536.1,194.7 L536.2,196.2 L536.4,197.7 L536.5,199.2 L536.6,200.6 L536.8,202.1 L536.9,203.6 L537.0,205.1 L537.1,206.6 L537.3,208.1 L537.4,209.6 L537.5,211.1 L537.5,212.6 L537.6,214.1 L537.7,215.6 L537.8,217.1 L537.9,218.6 L537.9,220.1 L538.0,221.6 L538.1,223.1 L538.1,224.6 L538.2,226.1 L538.2,227.6 L538.3,229.1 L538.4,230.6 L538.4,232.1 L538.5,233.6 L538.5,235.1 L538.6,236.6 L538.6,238.1 L538.7,239.6 L538.7,241.1 L538.8,242.6 L538.8,244.1 L538.9,245.6 L538.9,247.1 L539.0,248.6 L539.0,250.1 L539.1,251.6 L539.1,253.1 L539.2,254.6 L539.2,256.1 L539.3,257.6 L539.3,259.1 L539.4,260.6 L539.5,262.1 L539.5,263.6 L539.6,265.1 L539.6,266.6 L539.7,268.1 L539.8,269.6 L539.8,271.1 L539.9,272.6 L540.0,274.1 L540.1,275.6 L540.2,277.1 L540.2,278.6 L540.3,280.1 L540.4,281.6 L540.5,283.0 L540.6,284.5 L540.7,286.0 L540.8,287.5 L540.9,289.0 L541.0,290.5 L541.1,292.0 L541.2,293.5 L541.3,295.0 L541.4,296.5 L541.5,298.0 L541.6,299.5 L541.7,301.0 L541.8,302.5 L542.0,304.0 L542.1,305.5 L542.2,307.0 L542.3,308.5 L542.4,310.0 L542.5,311.5 L542.7,313.0 L542.8,314.5 L542.9,316.0 L543.0,317.5 L543.1,318.9 L543.3,320.4 L543.4,321.9 L543.5,323.4 L543.6,324.9 L543.8,326.4 L543.9,327.9 L544.0,329.4 L544.1,330.9 L544.3,332.4 L544.4,333.9 L544.5,335.4 L544.7,336.9 L544.8,338.4 L544.9,339.9 L545.0,341.4 L545.2,342.9 L545.3,344.4 L545.4,345.9 L545.6,347.3 L545.7,348.8 L545.8,350.3 L545.9,351.8 L546.1,353.3 L546.2,354.8 L546.3,356.3 L546.4,357.8 L546.6,359.3 L546.7,360.8 L546.8,362.3 L546.9,363.8 L547.0,365.3 L547.2,366.8 L547.3,368.3 L547.4,369.8 L547.5,371.3 L547.6,372.8 L547.7,374.3 L547.8,375.8 L547.9,377.3 L548.0,378.7 L548.1,380.2 L548.3,381.7 L548.4,383.2 L548.5,384.7 L548.6,386.2 L548.8,387.7 L548.9,389.2 L549.1,390.7 L549.2,392.2 L549.4,393.7 L549.6,395.2 L549.8,396.7 L550.0,398.1 L550.2,399.6 L550.4,401.1 L550.7,402.6 L550.9,404.1 L551.2,405.5 L551.5,407.0 L551.9,408.5 L552.2,409.9 L552.6,411.4 L553.0,412.8 L553.4,414.3 L553.7,415.7 L554.1,417.2 L554.5,418.6 L554.9,420.1 L555.2,421.5 L555.5,423.0 L555.8,424.5 L556.2,425.9 L556.5,427.4 L556.9,428.8 L557.4,430.3 L557.9,431.6 L558.6,432.9 L559.5,434.1 L560.6,435.0 L561.8,435.6 L563.2,435.9 L564.7,435.9 L566.1,435.6 L567.4,435.0 L568.6,434.1 L569.5,433.1 L570.4,431.9 L571.1,430.5 L571.7,429.2 L572.3,427.8 L572.8,426.4 L573.4,425.0 L573.9,423.6 L574.5,422.2 L575.1,420.9 L575.7,419.5 L576.3,418.1 L576.9,416.7 L577.4,415.3 L578.0,413.9 L578.5,412.5 L579.1,411.1 L579.7,409.8 L580.3,408.4 L581.0,407.1 L581.7,405.9 L582.7,404.9 L583.8,404.3 L585.1,404.3 L586.3,404.8 L587.4,405.6 L588.4,406.7 L589.2,407.9 L589.9,409.2 L590.5,410.6 L591.0,412.0 L591.4,413.5 L591.9,414.9 L592.3,416.3 L592.8,417.8 L593.2,419.2 L593.6,420.6 L594.0,422.1 L594.4,423.5 L594.8,425.0 L595.1,426.4 L595.5,427.9 L595.9,429.3 L596.2,430.8 L596.5,432.3 L596.9,433.7 L597.2,435.2 L597.5,436.7 L597.8,438.1 L598.1,439.6 L598.4,441.1 L598.7,442.5 L599.0,444.0 L599.3,445.5 L599.6,447.0 L599.8,448.4 L600.1,449.9 L600.5,451.4 L600.8,452.8 L601.1,454.3 L601.4,455.8 L601.8,457.2 L602.1,458.7 L602.4,460.2 L602.8,461.6 L603.1,463.1 L603.5,464.5 L603.8,466.0 L604.1,467.5 L604.5,468.9 L604.8,470.4 L605.2,471.8 L605.5,473.3 L605.9,474.7 L606.3,476.2 L606.6,477.7 L607.0,479.1 L607.4,480.5 L607.8,482.0 L608.3,483.4 L608.7,484.9 L609.2,486.3 L609.7,487.7 L610.2,489.1 L610.7,490.5 L611.2,491.9 L611.8,493.3 L612.4,494.7 L613.0,496.0 L613.6,497.4 L614.3,498.8 L615.0,500.1 L615.7,501.4 L616.4,502.8 L617.1,504.1 L617.9,505.4 L618.6,506.6 L619.4,507.9 L620.2,509.2 L621.1,510.4 L621.9,511.7 L622.8,512.9 L623.7,514.1 L624.6,515.3 L625.5,516.4 L626.5,517.6 L627.5,518.7 L628.5,519.9 L629.5,520.9 L630.5,522.0 L631.6,523.1 L632.7,524.1 L633.7,525.2 L634.9,526.2 L636.0,527.2 L637.1,528.2 L638.3,529.1 L639.4,530.1 L640.6,531.0 L641.8,531.9 L643.0,532.8 L644.2,533.7 L645.4,534.5 L646.7,535.4 L648.0,536.2 L649.2,536.9 L650.6,537.7 L651.9,538.3 L653.2,539.0 L654.6,539.6 L656.0,540.2 L657.4,540.7 L658.8,541.2 L660.3,541.6 L661.7,542.0 L663.1,542.4 L664.6,542.8 L666.1,543.1 L667.5,543.4 L669.0,543.7 L670.5,544.0 L671.9,544.3 L673.4,544.5 L674.9,544.8 L676.4,545.0 L677.9,545.2 L679.4,545.4 L680.8,545.7 L682.3,545.9 L683.8,546.1 L685.3,546.3 L686.8,546.5 L688.3,546.7 L689.8,546.9 L691.2,547.1 L692.7,547.3 L694.2,547.4 L695.7,547.6 L697.2,547.7 L698.7,547.9 L700.2,548.0 L701.7,548.1 L703.2,548.2 L704.7,548.3 L706.2,548.4 L707.7,548.5 L709.2,548.6 L710.7,548.7 L712.2,548.8 L713.7,548.9 L715.2,549.0 L716.7,549.1 L718.2,549.2 L719.7,549.3 L721.2,549.4 L722.6,549.4 L724.1,549.5 L725.6,549.6 L727.1,549.7 L728.6,549.8 L730.1,549.9 L731.6,550.0 L733.1,550.0 L734.6,550.1 L736.1,550.2 L737.6,550.2 L739.1,550.3 L740.6,550.4 L742.1,550.5 L743.6,550.5 L745.1,550.6 L746.6,550.6 L748.1,550.7 L749.6,550.8 L751.1,550.8 L752.6,550.9 L754.1,551.0 L755.6,551.0 L757.1,551.1 L758.6,551.2 L760.1,551.2 L761.6,551.3 L763.1,551.3 L764.6,551.4 L766.1,551.4 L767.6,551.5 L769.1,551.6 L770.6,551.6 L772.1,551.7 L773.6,551.7 L775.1,551.8 L776.6,551.8 L778.1,551.9 L779.6,551.9 L781.1,552.0 L782.6,552.1 L784.1,552.1 L785.6,552.2 L787.1,552.2 L788.6,552.3 L790.1,552.3 L791.6,552.4 L793.1,552.4 L794.6,552.5 L796.1,552.5 L797.6,552.6 L799.1,552.6 L800.6,552.7 L802.1,552.8 L803.6,552.8 L805.1,552.9 L806.6,552.9 L808.1,553.0 L809.6,553.0 L811.1,553.1 L811.6,553.1" stroke="#f00"/><path d="M48.7,539.7 L50.2,539.7 L51.7,539.7 L53.2,539.8 L54.7,539.8 L56.2,539.8 L57.7,539.8 L59.2,539.8 L60.7,539.8 L62.2,539.8 L63.7,539.8 L65.2,539.8 L66.7,539.8 L68.2,539.7 L69.7,539.7 L71.2,539.6 L72.7,539.6 L74.2,539.5 L75.7,539.4 L77.2,539.3 L78.7,539.2 L80.2,539.1 L81.7,539.0 L83.2,538.9 L84.7,538.7 L86.2,538.6 L87.7,538.5 L89.1,538.3 L90.6,538.2 L92.1,538.1 L93.6,537.9 L95.1,537.8 L96.6,537.6 L98.1,537.5 L99.6,537.3 L101.1,537.1 L102.6,536.9 L104.1,536.7 L105.5,536.4 L107.0,536.2 L108.5,535.9 L110.0,535.6 L111.4,535.3 L112.9,535.0 L114.3,534.6 L115.8,534.3 L117.3,533.9 L118.7,533.6 L120.2,533.2 L121.6,532.8 L123.1,532.4 L124.5,532.0 L125.9,531.6 L127.4,531.1 L128.8,530.7 L130.3,530.3 L131.7,529.8 L133.1,529.4 L134.5,528.9 L136.0,528.4 L137.4,528.0 L138.8,527.5 L140.2,527.0 L141.6,526.4 L143.0,525.9 L144.4,525.4 L145.8,524.8 L147.2,524.3 L148.6,523.7 L150.0,523.1 L151.4,522.5 L152.7,521.9 L154.1,521.2 L155.4,520.6 L156.8,519.9 L158.1,519.2 L159.4,518.4 L160.6,517.6 L161.9,516.8 L163.1,515.9 L164.3,515.0 L165.4,514.0 L166.6,513.1 L167.8,512.2 L169.0,511.3 L170.2,510.4 L171.4,509.5 L172.6,508.6 L173.8,507.7 L175.0,506.8 L176.2,505.9 L177.4,505.0 L178.7,504.2 L180.0,503.4 L181.3,502.7 L182.6,502.0 L183.9,501.3 L185.3,500.7 L186.7,500.1 L188.0,499.5 L189.4,499.0 L190.9,498.5 L192.3,498.1 L193.8,497.8 L195.2,497.6 L196.7,497.6 L198.2,497.8 L199.6,498.1 L201.0,498.6 L202.4,499.2 L203.7,499.9 L205.0,500.6 L206.3,501.4 L207.6,502.2 L208.9,502.9 L210.2,503.6 L211.6,504.3 L212.9,504.9 L214.3,505.4 L215.8,505.8 L217.2,506.1 L218.7,506.3 L220.2,506.5 L221.7,506.5 L223.2,506.5 L224.7,506.5 L226.2,506.5 L227.7,506.5 L229.2,506.4 L230.7,506.4 L232.2,506.4 L233.7,506.4 L235.2,506.4 L236.7,506.3 L238.2,506.3 L239.7,506.3 L241.2,506.2 L242.7,506.2 L244.2,506.1 L245.7,506.0 L247.2,505.9 L248.6,505.9 L250.1,506.1 L251.5,506.5 L252.8,507.1 L254.2,507.8 L255.4,508.6 L256.7,509.4 L258.0,510.2 L259.3,511.0 L260.5,511.8 L261.8,512.6 L263.0,513.4 L264.3,514.2 L265.6,515.0 L266.9,515.7 L268.3,516.3 L269.6,517.0 L271.0,517.5 L272.4,518.1 L273.8,518.6 L275.3,519.0 L276.7,519.5 L278.1,519.9 L279.6,520.3 L281.0,520.7 L282.5,521.1 L283.9,521.5 L285.4,521.8 L286.8,522.1 L288.3,522.4 L289.8,522.6 L291.3,522.8 L292.8,522.9 L294.3,523.0 L295.8,523.0 L297.3,523.0 L298.8,522.9 L300.3,522.8 L301.8,522.7 L303.3,522.6 L304.8,522.4 L306.3,522.3 L307.7,522.1 L309.2,521.9 L310.7,521.7 L312.2,521.4 L313.7,521.2 L315.1,520.9 L316.6,520.6 L318.1,520.3 L319.6,520.0 L321.0,519.7 L322.5,519.4 L324.0,519.1 L325.4,518.8 L326.9,518.5 L328.4,518.2 L329.8,517.9 L331.3,517.5 L332.7,517.2 L334.2,516.8 L335.6,516.3 L337.0,515.9 L338.4,515.3 L339.8,514.7 L341.2,514.1 L342.5,513.4 L343.8,512.6 L345.0,511.8 L346.3,511.0 L347.6,510.2 L348.8,509.3 L350.1,508.5 L351.3,507.7 L352.6,506.9 L353.9,506.1 L355.1,505.3 L356.4,504.5 L357.7,503.8 L359.0,503.0 L360.2,502.2 L361.5,501.3 L362.7,500.5 L364.0,499.6 L365.2,498.7 L366.3,497.8 L367.4,496.8 L368.5,495.8 L369.6,494.7 L370.6,493.6 L371.6,492.5 L372.6,491.4 L373.6,490.2 L374.5,489.1 L375.5,487.9 L376.4,486.8 L377.4,485.6 L378.3,484.4 L379.2,483.2 L380.1,482.0 L381.0,480.8 L381.8,479.6 L382.7,478.3 L383.5,477.1 L384.4,475.9 L385.2,474.6 L386.1,473.4 L386.9,472.1 L387.7,470.9 L388.5,469.6 L389.3,468.3 L390.0,467.0 L390.8,465.7 L391.5,464.4 L392.2,463.1 L392.9,461.7 L393.5,460.4 L394.1,459.0 L394.8,457.6 L395.3,456.3 L395.9,454.9 L396.5,453.5 L397.0,452.1 L397.5,450.7 L398.0,449.3 L398.5,447.8 L398.9,446.4 L399.4,445.0 L399.8,443.5 L400.2,442.1 L400.7,440.7 L401.1,439.2 L401.5,437.8 L401.9,436.3 L402.3,434.9 L402.7,433.4 L403.2,432.0 L403.6,430.6 L404.0,429.1 L404.4,427.7 L404.9,426.3 L405.3,424.8 L405.7,423.4 L406.1,421.9 L406.6,420.5 L407.0,419.1 L407.4,417.6 L407.8,416.2 L408.2,414.7 L408.7,413.3 L409.1,411.9 L409.5,410.4 L409.9,409.0 L410.3,407.5 L410.8,406.1 L411.2,404.7 L411.6,403.2 L412.0,401.8 L412.5,400.3 L412.9,398.9 L413.3,397.5 L413.7,396.0 L414.1,394.6 L414.5,393.1 L414.9,391.7 L415.3,390.2 L415.7,388.8 L416.0,387.3 L416.4,385.9 L416.8,384.4 L417.2,383.0 L417.6,381.5 L417.9,380.1 L418.3,378.6 L418.7,377.2 L419.1,375.7 L419.5,374.3 L419.9,372.8 L420.3,371.4 L420.7,369.9 L421.1,368.5 L421.5,367.1 L422.0,365.6 L422.4,364.2 L422.9,362.8 L423.4,361.4 L423.9,360.0 L424.5,358.6 L425.1,357.2 L425.7,355.8 L426.3,354.4 L426.9,353.1 L427.6,351.7 L428.2,350.4 L429.0,349.1 L429.7,347.8 L430.6,346.6 L431.6,345.6 L432.7,345.0 L434.0,344.9 L435.2,345.3 L436.2,346.2 L437.2,347.3 L438.1,348.5 L438.9,349.7 L439.7,351.0 L440.5,352.3 L441.3,353.5 L442.1,354.8 L443.0,356.0 L444.0,357.2 L444.9,358.3 L445.9,359.4 L447.0,360.4 L448.2,361.3 L449.4,361.9 L450.8,362.1 L452.1,361.9 L453.4,361.3 L454.7,360.5 L455.8,359.6 L456.9,358.6 L458.0,357.5 L458.9,356.3 L459.8,355.1 L460.6,353.9 L461.3,352.6 L462.0,351.2 L462.7,349.9 L463.3,348.5 L463.8,347.1 L464.4,345.7 L465.0,344.4 L465.6,343.0 L466.1,341.6 L466.7,340.2 L467.2,338.8 L467.8,337.4 L468.3,336.0 L468.8,334.6 L469.2,333.1 L469.7,331.7 L470.1,330.3 L470.6,328.8 L471.0,327.4 L471.4,326.0 L471.7,324.5 L472.1,323.0 L472.4,321.6 L472.8,320.1 L473.1,318.7 L473.4,317.2 L473.7,315.7 L473.9,314.2 L474.2,312.8 L474.5,311.3 L474.8,309.8 L475.0,308.3 L475.3,306.9 L475.5,305.4 L475.8,303.9 L476.0,302.4 L476.2,300.9 L476.5,299.5 L476.7,298.0 L477.0,296.5 L477.2,295.0 L477.4,293.5 L477.6,292.0 L477.9,290.6 L478.1,289.1 L478.3,287.6 L478.6,286.1 L478.8,284.6 L479.0,283.1 L479.2,281.7 L479.4,280.2 L479.7,278.7 L479.9,277.2 L480.1,275.7 L480.3,274.2 L480.5,272.8 L480.7,271.3 L480.9,269.8 L481.1,268.3 L481.3,266.8 L481.6,265.3 L481.8,263.8 L482.0,262.4 L482.2,260.9 L482.4,259.4 L482.6,257.9 L482.8,256.4 L482.9,254.9 L483.1,253.4 L483.3,251.9 L483.5,250.5 L483.7,249.0 L483.9,247.5 L484.1,246.0 L484.3,244.5 L484.5,243.0 L484.6,241.5 L484.8,240.0 L485.0,238.5 L485.2,237.1 L485.3,235.6 L485.5,234.1 L485.6,232.6 L485.8,231.1 L485.9,229.6 L486.1,228.1 L486.2,226.6 L486.3,225.1 L486.5,223.6 L486.6,222.1 L486.7,220.6 L486.9,219.1 L487.0,217.6 L487.1,216.2 L487.3,214.7 L487.4,213.2 L487.6,211.7 L487.7,210.2 L487.9,208.7 L488.1,207.2 L488.3,205.7 L488.4,204.2 L488.6,202.7 L488.8,201.3 L489.0,199.8 L489.2,198.3 L489.5,196.8 L489.7,195.3 L489.9,193.8 L490.1,192.3 L490.3,190.9 L490.5,189.4 L490.8,187.9 L491.0,186.4 L491.2,184.9 L491.5,183.4 L491.7,182.0 L491.9,180.5 L492.1,179.0 L492.4,177.5 L492.6,176.0 L492.8,174.5 L493.1,173.1 L493.3,171.6 L493.5,170.1 L493.7,168.6 L494.0,167.1 L494.2,165.7 L494.4,164.2 L494.6,162.7 L494.8,161.2 L495.1,159.7 L495.3,158.2 L495.5,156.7 L495.7,155.3 L495.9,153.8 L496.1,152.3 L496.3,150.8 L496.5,149.3 L496.7,147.8 L496.9,146.3 L497.1,144.8 L497.2,143.4 L497.4,141.9 L497.6,140.4 L497.8,138.9 L498.0,137.4 L498.2,135.9 L498.3,134.4 L498.5,132.9 L498.7,131.4 L498.9,130.0 L499.0,128.5 L499.2,127.0 L499.4,125.5 L499.6,124.0 L499.7,122.5 L499.9,121.0 L500.1,119.5 L500.2,118.0 L500.4,116.5 L500.6,115.1 L500.8,113.6 L500.9,112.1 L501.1,110.6 L501.3,109.1 L501.4,107.6 L501.6,106.1 L501.8,104.6 L501.9,103.1 L502.1,101.6 L502.3,100.2 L502.5,98.7 L502.6,97.2 L502.8,95.7 L503.0,94.2 L503.1,92.7 L503.3,91.2 L503.5,89.7 L503.6,88.2 L503.8,86.7 L503.9,85.2 L504.1,83.8 L504.3,82.3 L504.4,80.8 L504.6,79.3 L504.8,77.8 L505.0,76.3 L505.1,74.8 L505.3,73.3 L505.5,71.8 L505.7,70.3 L505.9,68.9 L506.1,67.4 L506.3,65.9 L506.5,64.4 L506.7,62.9 L506.9,61.4 L507.1,59.9 L507.3,58.5 L507.4,57.5 L507.9,55.6 L508.4,54.1 L508.8,52.7 L509.3,51.3 L509.7,49.8 L510.2,48.4 L510.6,47.0 L511.0,45.5 L511.2,45.1 L512.1,46.2 L513.0,47.4 L513.8,48.6 L514.5,49.9 L515.1,51.3 L515.6,52.7 L516.0,54.2 L516.3,55.6 L516.5,57.1 L516.8,58.6 L516.9,60.1 L517.1,61.6 L517.3,63.1 L517.4,64.5 L517.6,66.0 L517.8,67.5 L518.0,69.0 L518.2,70.5 L518.4,72.0 L518.6,73.5 L518.9,74.9 L519.2,76.4 L519.5,77.9 L519.7,79.4 L520.0,80.8 L520.2,82.3 L520.4,83.8 L520.6,85.3 L520.8,86.8 L520.9,88.3 L521.1,89.8 L521.2,91.3 L521.3,92.8 L521.5,94.3 L521.6,95.7 L521.7,97.2 L521.9,98.7 L522.0,100.2 L522.2,101.7 L522.3,103.2 L522.5,104.7 L522.7,106.2 L522.8,107.7 L523.0,109.2 L523.3,110.7 L523.5,112.1 L523.7,113.6 L523.9,115.1 L524.1,116.6 L524.3,118.1 L524.5,119.6 L524.7,121.1 L524.9,122.5 L525.1,124.0 L525.2,125.5 L525.4,127.0 L525.6,128.5 L525.7,130.0 L525.9,131.5 L526.0,133.0 L526.2,134.5 L526.3,136.0 L526.5,137.5 L526.6,138.9 L526.8,140.4 L526.9,141.9 L527.0,143.4 L527.2,144.9 L527.3,146.4 L527.5,147.9 L527.6,149.4 L527.7,150.9 L527.9,152.4 L528.0,153.9 L528.1,155.4 L528.3,156.9 L528.4,158.4 L528.5,159.9 L528.7,161.4 L528.8,162.8 L528.9,164.3 L529.1,165.8 L529.2,167.3 L529.3,168.8 L529.4,170.3 L529.6,171.8 L529.7,173.3 L529.8,174.8 L529.9,176.3 L530.0,177.8 L530.2,179.3 L530.3,180.8 L530.4,182.3 L530.5,183.8 L530.6,185.3 L530.7,186.8 L530.8,188.3 L530.9,189.8 L531.0,191.3 L531.1,192.8 L531.2,194.3 L531.3,195.8 L531.4,197.3 L531.4,198.8 L531.5,200.2 L531.6,201.7 L531.6,203.2 L531.7,204.7 L531.7,206.2 L531.8,207.7 L531.8,209.2 L531.8,210.7 L531.9,212.2 L531.9,213.7 L531.9,215.2 L532.0,216.7 L532.0,218.2 L532.0,219.7 L532.1,221.2 L532.1,222.7 L532.2,224.2 L532.2,225.7 L532.3,227.2 L532.3,228.7 L532.4,230.2 L532.5,231.7 L532.6,233.2 L532.6,234.7 L532.7,236.2 L532.8,237.7 L532.9,239.2 L533.1,240.7 L533.2,242.2 L533.3,243.7 L533.4,245.2 L533.6,246.7 L533.7,248.2 L533.8,249.7 L534.0,251.2 L534.1,252.7 L534.3,254.2 L534.4,255.7 L534.6,257.1 L534.7,258.6 L534.9,260.1 L535.0,261.6 L535.2,263.1 L535.3,264.6 L535.5,266.1 L535.7,267.6 L535.8,269.1 L536.0,270.6 L536.2,272.1 L536.3,273.5 L536.5,275.0 L536.7,276.5 L536.9,278.0 L537.0,279.5 L537.2,281.0 L537.4,282.5 L537.6,284.0 L537.7,285.5 L537.9,287.0 L538.1,288.4 L538.3,289.9 L538.4,291.4 L538.6,292.9 L538.8,294.4 L539.0,295.9 L539.1,297.4 L539.3,298.9 L539.5,300.4 L539.7,301.9 L539.9,303.3 L540.1,304.8 L540.2,306.3 L540.4,307.8 L540.6,309.3 L540.8,310.8 L541.0,312.3 L541.2,313.7 L541.5,315.2 L541.7,316.7 L541.9,318.2 L542.1,319.7 L542.4,321.2 L542.6,322.6 L542.9,324.1 L543.1,325.6 L543.4,327.1 L543.6,328.6 L543.9,330.0 L544.1,331.5 L544.4,333.0 L544.6,334.5 L544.9,336.0 L545.1,337.4 L545.4,338.9 L545.6,340.4 L545.9,341.9 L546.2,343.3 L546.6,344.8 L547.0,346.2 L547.4,347.6 L548.0,349.0 L548.7,350.4 L549.5,351.6 L550.4,352.7 L551.6,353.6 L552.9,354.3 L554.2,354.9 L555.6,355.4 L557.0,356.0 L558.3,356.7 L559.6,357.4 L560.9,358.3 L562.1,359.1 L563.2,360.1 L564.3,361.1 L565.4,362.2 L566.3,363.3 L567.2,364.5 L568.1,365.7 L568.8,367.0 L569.5,368.3 L570.2,369.7 L570.8,371.1 L571.4,372.4 L572.0,373.8 L572.5,375.2 L573.1,376.6 L573.6,378.0 L574.2,379.4 L574.7,380.8 L575.2,382.2 L575.7,383.6 L576.2,385.0 L576.7,386.5 L577.2,387.9 L577.7,389.3 L578.2,390.7 L578.6,392.1 L579.1,393.6 L579.6,395.0 L580.0,396.4 L580.5,397.9 L580.9,399.3 L581.3,400.7 L581.8,402.2 L582.2,403.6 L582.6,405.0 L583.0,406.5 L583.5,407.9 L583.9,409.4 L584.3,410.8 L584.7,412.2 L585.1,413.7 L585.5,415.1 L585.9,416.6 L586.3,418.0 L586.7,419.5 L587.1,420.9 L587.5,422.4 L587.9,423.8 L588.2,425.3 L588.6,426.7 L589.0,428.2 L589.3,429.6 L589.7,431.1 L590.0,432.6 L590.4,434.0 L590.7,435.5 L591.1,436.9 L591.4,438.4 L591.8,439.8 L592.1,441.3 L592.5,442.8 L592.9,444.2 L593.2,445.7 L593.6,447.1 L594.0,448.6 L594.3,450.0 L594.7,451.5 L595.1,452.9 L595.5,454.4 L595.9,455.8 L596.3,457.3 L596.6,458.7 L597.0,460.2 L597.4,461.6 L597.8,463.1 L598.2,464.5 L598.6,466.0 L598.9,467.4 L599.3,468.9 L599.7,470.3 L600.1,471.8 L600.6,473.2 L601.0,474.6 L601.4,476.1 L601.9,477.5 L602.3,478.9 L602.8,480.4 L603.3,481.8 L603.9,483.2 L604.4,484.6 L605.0,485.9 L605.6,487.3 L606.2,488.7 L606.8,490.0 L607.5,491.4 L608.2,492.7 L608.8,494.1 L609.5,495.4 L610.3,496.7 L611.0,498.0 L611.8,499.3 L612.5,500.6 L613.3,501.9 L614.2,503.1 L615.0,504.4 L615.8,505.6 L616.7,506.8 L617.6,508.0 L618.5,509.2 L619.5,510.4 L620.4,511.6 L621.4,512.7 L622.4,513.8 L623.4,514.9 L624.4,516.0 L625.4,517.1 L626.5,518.2 L627.6,519.2 L628.7,520.2 L629.8,521.2 L631.0,522.2 L632.2,523.1 L633.4,524.0 L634.6,524.9 L635.8,525.7 L637.1,526.5 L638.3,527.3 L639.6,528.1 L640.9,528.8 L642.3,529.5 L643.6,530.2 L644.9,530.9 L646.3,531.5 L647.7,532.1 L649.0,532.7 L650.4,533.3 L651.8,533.9 L653.2,534.4 L654.6,534.9 L656.0,535.4 L657.5,535.9 L658.9,536.3 L660.3,536.7 L661.8,537.1 L663.2,537.5 L664.7,537.8 L666.1,538.2 L667.6,538.5 L669.1,538.8 L670.6,539.1 L672.0,539.4 L673.5,539.6 L675.0,539.9 L676.5,540.1 L677.9,540.4 L679.4,540.6 L680.9,540.8 L682.4,541.0 L683.9,541.3 L685.4,541.5 L686.8,541.7 L688.3,541.9 L689.8,542.1 L691.3,542.3 L692.8,542.5 L694.3,542.7 L695.8,542.9 L697.3,543.1 L698.7,543.2 L700.2,543.4 L701.7,543.5 L703.2,543.7 L704.7,543.8 L706.2,544.0 L707.7,544.1 L709.2,544.2 L710.7,544.4 L712.2,544.5 L713.7,544.6 L715.2,544.7 L716.7,544.8 L718.2,544.9 L719.7,545.0 L721.2,545.2 L722.7,545.3 L724.2,545.4 L725.7,545.4 L727.2,545.5 L728.6,545.6 L730.1,545.7 L731.6,545.8 L733.1,545.8 L734.6,545.9 L736.1,546.0 L737.6,546.0 L739.1,546.1 L740.6,546.2 L742.1,546.2 L743.6,546.3 L745.1,546.4 L746.6,546.4 L748.1,546.5 L749.6,546.6 L751.1,546.6 L752.6,546.7 L754.1,546.8 L755.6,546.9 L757.1,546.9 L758.6,547.0 L760.1,547.1 L761.6,547.2 L763.1,547.3 L764.6,547.3 L766.1,547.4 L767.6,547.5 L769.1,547.6 L770.6,547.7 L772.1,547.7 L773.6,547.8 L775.1,547.9 L776.6,548.0 L778.1,548.1 L779.6,548.1 L781.1,548.2 L782.6,548.3 L784.1,548.4 L785.6,548.5 L787.1,548.5 L788.6,548.6 L790.1,548.7 L791.6,548.8 L793.1,548.9 L794.6,549.0 L796.1,549.0 L797.6,549.1 L799.1,549.2 L800.6,549.3 L802.1,549.4 L803.5,549.4 L805.0,549.5 L806.5,549.6 L808.0,549.7 L809.5,549.8 L811.0,549.8 L811.5,549.9" stroke="#00f"/><path d="M49.0,462.3 L49.5,462.3 L50.0,462.5 L50.5,462.5 L51.0,462.7 L51.5,463.3 L52.0,463.6 L52.5,463.8 L53.0,464.3 L53.5,464.5 L54.0,464.3 L54.5,464.3 L55.0,464.4 L55.5,464.3 L56.0,463.9 L56.5,463.6 L57.0,463.1 L57.5,462.6 L58.0,461.9 L58.5,461.8 L59.0,461.3 L59.5,461.4 L60.0,461.4 L60.5,461.4 L61.0,460.6 L61.5,460.4 L62.0,460.0 L62.5,459.7 L63.0,459.1 L63.5,459.1 L64.0,458.7 L64.5,458.2 L65.0,458.1 L65.5,457.9 L66.0,457.7 L66.5,457.8 L67.0,457.6 L67.5,457.2 L68.0,457.1 L68.5,457.0 L69.0,456.4 L69.5,456.4 L70.0,456.6 L70.5,456.1 L71.0,456.2 L71.5,456.4 L72.0,456.2 L72.5,456.2 L73.0,456.6 L73.5,456.2 L74.0,456.1 L74.5,456.3 L75.0,455.8 L75.5,455.7 L76.0,455.9 L76.5,455.9 L77.0,456.0 L77.5,455.8 L78.0,455.7 L78.5,455.5 L79.0,455.3 L79.5,454.7 L80.0,454.5 L80.5,454.3 L81.0,454.3 L81.5,454.3 L82.0,454.0 L82.5,453.6 L83.0,453.5 L83.5,452.5 L84.0,451.8 L84.5,451.6 L85.0,451.5 L85.5,451.1 L86.0,450.9 L86.5,450.4 L87.0,449.9 L87.5,449.5 L88.0,448.8 L88.5,448.4 L89.0,448.1 L89.5,447.7 L90.0,447.0 L90.5,446.4 L91.0,446.1 L91.5,445.6 L92.0,445.5 L92.5,445.3 L93.0,445.2 L93.5,445.1 L94.0,444.8 L94.5,444.5 L95.0,444.2 L95.5,444.1 L96.0,443.5 L96.5,443.5 L97.0,442.8 L97.5,442.2 L98.0,441.9 L98.5,441.8 L99.0,441.6 L99.5,442.2 L100.0,442.2 L100.5,442.0 L101.0,441.9 L101.5,441.8 L102.0,441.0 L102.5,440.9 L103.0,440.8 L103.5,440.5 L104.0,439.9 L104.5,439.6 L105.0,439.2 L105.5,438.5 L106.0,438.1 L106.5,437.7 L107.0,437.5 L107.5,437.1 L108.0,437.0 L108.5,436.4 L109.0,436.1 L109.5,435.2 L110.0,434.5 L110.5,434.1 L111.0,433.4 L111.5,433.2 L112.0,432.9 L112.5,432.8 L113.0,432.2 L113.5,432.4 L114.0,431.9 L114.5,431.5 L115.0,431.2 L115.5,431.3 L116.0,430.8 L116.5,430.4 L117.0,430.3 L117.5,429.6 L118.0,429.3 L118.5,428.9 L119.0,428.7 L119.5,428.3 L120.0,428.2 L120.5,427.5 L121.0,427.7 L121.5,427.5 L122.0,427.7 L122.5,427.7 L123.0,427.7 L123.5,427.2 L124.0,427.0 L124.5,426.7 L125.0,426.4 L125.5,426.3 L126.0,426.0 L126.5,425.7 L127.0,425.8 L127.5,425.5 L128.0,425.1 L128.5,425.2 L129.0,425.4 L129.5,424.5 L130.0,424.3 L130.5,424.0 L131.0,423.3 L131.5,422.8 L132.0,422.7 L132.5,422.4 L133.0,422.0 L133.5,422.1 L134.0,421.5 L134.5,421.1 L135.0,420.5 L135.5,420.1 L136.0,419.9 L136.5,419.6 L137.0,419.4 L137.5,419.3 L138.0,419.1 L138.5,418.4 L139.0,418.4 L139.5,418.0 L140.0,417.7 L140.5,417.5 L141.0,417.5 L141.5,417.3 L142.0,417.2 L142.5,416.9 L143.0,416.4 L143.5,416.1 L144.0,416.0 L144.5,415.7 L145.0,415.8 L145.5,416.1 L146.0,415.9 L146.5,415.8 L147.0,415.6 L147.5,415.7 L148.0,415.3 L148.5,415.2 L149.0,415.0 L149.5,415.2 L150.0,415.2 L150.5,415.7 L151.0,415.3 L151.5,414.7 L152.0,414.6 L152.5,414.0 L153.0,413.5 L153.5,413.8 L154.0,413.6 L154.5,412.9 L155.0,412.9 L155.5,412.7 L156.0,412.2 L156.5,412.3 L157.0,412.2 L157.5,411.5 L158.0,411.1 L158.5,410.6 L159.0,409.9 L159.5,409.7 L160.0,409.6 L160.5,409.3 L161.0,408.9 L161.5,408.7 L162.0,408.0 L162.5,407.5 L163.0,407.1 L163.5,406.8 L164.0,406.7 L164.5,406.7 L165.0,407.0 L165.5,406.4 L166.0,406.5 L166.5,406.2 L167.0,405.9 L167.5,405.1 L168.0,405.1 L168.5,404.9 L169.0,404.8 L169.5,404.7 L170.0,404.8 L170.5,405.0 L171.0,404.8 L171.5,404.3 L172.0,404.2 L172.5,403.8 L173.0,403.0 L173.5,402.9 L174.0,403.7 L174.5,403.9 L175.0,404.1 L175.5,404.7 L176.0,405.1 L176.5,404.9 L177.0,405.0 L177.5,405.3 L178.0,405.5 L178.5,405.5 L179.0,405.6 L179.5,405.6 L180.0,405.4 L180.5,405.4 L181.0,405.1 L181.5,405.1 L182.0,404.7 L182.5,404.7 L183.0,404.4 L183.5,404.2 L184.0,404.1 L184.5,404.4 L185.0,404.2 L185.5,404.1 L186.0,404.2 L186.5,403.1 L187.0,402.7 L187.5,402.5 L188.0,402.1 L188.5,401.5 L189.0,401.7 L189.5,401.3 L190.0,401.3 L190.5,401.0 L191.0,401.0 L191.5,401.1 L192.0,400.7 L192.5,400.2 L193.0,399.6 L193.5,399.8 L194.0,399.6 L194.5,399.8 L195.0,400.0 L195.5,400.4 L196.0,400.1 L196.5,399.9 L197.0,399.8 L197.5,399.7 L198.0,400.1 L198.5,400.3 L199.0,400.4 L199.5,400.5 L200.0,400.5 L200.5,400.6 L201.0,400.7 L201.5,400.9 L202.0,401.0 L202.5,401.1 L203.0,400.8 L203.5,401.0 L204.0,400.9 L204.5,401.0 L205.0,401.2 L205.5,401.2 L206.0,400.7 L206.5,400.6 L207.0,400.4 L207.5,400.5 L208.0,400.2 L208.5,400.5 L209.0,400.6 L209.5,400.5 L210.0,400.0 L210.5,400.0 L211.0,399.6 L211.5,398.9 L212.0,398.8 L212.5,399.1 L213.0,398.7 L213.5,398.4 L214.0,398.1 L214.5,397.8 L215.0,396.9 L215.5,396.5 L216.0,396.5 L216.5,396.3 L217.0,396.1 L217.5,396.4 L218.0,396.4 L218.5,396.1 L219.0,396.4 L219.5,396.0 L220.0,395.4 L220.5,394.9 L221.0,394.7 L221.5,394.5 L222.0,394.7 L222.5,394.6 L223.0,394.7 L223.5,394.6 L224.0,394.4 L224.5,394.2 L225.0,394.5 L225.5,394.8 L226.0,394.9 L226.5,394.9 L227.0,395.0 L227.5,395.0 L228.0,395.0 L228.5,395.5 L229.0,395.5 L229.5,395.5 L230.0,395.0 L230.5,394.9 L231.0,394.0 L231.5,393.4 L232.0,393.3 L232.5,393.5 L233.0,393.1 L233.5,392.9 L234.0,392.7 L234.5,392.1 L235.0,391.7 L235.5,391.8 L236.0,391.8 L236.5,391.3 L237.0,390.8 L237.5,390.3 L238.0,389.4 L238.5,388.7 L239.0,388.4 L239.5,388.0 L240.0,387.8 L240.5,387.6 L241.0,387.6 L241.5,387.0 L242.0,386.9 L242.5,386.2 L243.0,385.5 L243.5,384.9 L244.0,384.4 L244.5,383.6 L245.0,383.5 L245.5,383.2 L246.0,383.0 L246.5,383.2 L247.0,382.9 L247.5,382.4 L248.0,382.2 L248.5,382.0 L249.0,381.5 L249.5,381.8 L250.0,381.8 L250.5,381.4 L251.0,380.9 L251.5,380.9 L252.0,380.6 L252.5,380.0 L253.0,380.4 L253.5,380.5 L254.0,380.4 L254.5,380.1 L255.0,380.2 L255.5,379.5 L256.0,379.7 L256.5,379.1 L257.0,379.3 L257.5,379.0 L258.0,379.0 L258.5,377.8 L259.0,377.4 L259.5,377.0 L260.0,376.4 L260.5,376.2 L261.0,376.1 L261.5,375.5 L262.0,374.7 L262.5,374.3 L263.0,373.5 L263.5,372.7 L264.0,372.1 L264.5,371.6 L265.0,370.8 L265.5,369.9 L266.0,369.4 L266.5,369.0 L267.0,368.1 L267.5,367.7 L268.0,367.1 L268.5,366.3 L269.0,365.6 L269.5,365.1 L270.0,364.8 L270.5,364.1 L271.0,363.7 L271.5,362.9 L272.0,362.2 L272.5,361.4 L273.0,361.0 L273.5,360.4 L274.0,359.9 L274.5,359.3 L275.0,358.7 L275.5,358.2 L276.0,357.8 L276.5,357.2 L277.0,356.9 L277.5,356.1 L278.0,355.8 L278.5,355.0 L279.0,354.4 L279.5,353.9 L280.0,354.1 L280.5,353.2 L281.0,352.8 L281.5,352.6 L282.0,352.0 L282.5,351.4 L283.0,351.0 L283.5,350.6 L284.0,350.4 L284.5,349.9 L285.0,349.4 L285.5,348.8 L286.0,348.1 L286.5,347.0 L287.0,346.8 L287.5,346.0 L288.0,345.5 L288.5,345.0 L289.0,344.6 L289.5,343.4 L290.0,343.0 L290.5,341.8 L291.0,340.5 L291.5,339.3 L292.0,338.0 L292.5,336.7 L293.0,335.9 L293.5,335.0 L294.0,333.8 L294.5,332.9 L295.0,332.0 L295.5,330.2 L296.0,329.5 L296.5,328.5 L297.0,327.9 L297.5,326.4 L298.0,326.0 L298.5,324.8 L299.0,324.0 L299.5,323.2 L300.0,322.9 L300.5,322.1 L301.0,321.5 L301.5,320.7 L302.0,319.7 L302.5,318.9 L303.0,318.4 L303.5,317.9 L304.0,317.5 L304.5,316.9 L305.0,316.3 L305.5,316.0 L306.0,315.7 L306.5,315.3 L307.0,314.5 L307.5,313.8 L308.0,312.7 L308.5,311.5 L309.0,310.7 L309.5,309.9 L310.0,309.1 L310.5,308.4 L311.0,307.6 L311.5,306.6 L312.0,305.6 L312.5,304.2 L313.0,303.1 L313.5,301.8 L314.0,300.6 L314.5,299.5 L315.0,298.2 L315.5,296.9 L316.0,295.4 L316.5,293.9 L317.0,292.5 L317.5,291.0 L318.0,289.6 L318.5,288.5 L319.0,287.2 L319.5,285.8 L320.0,284.7 L320.5,283.2 L321.0,281.8 L321.5,280.5 L322.0,279.3 L322.5,278.0 L323.0,277.1 L323.5,276.1 L324.0,275.2 L324.5,274.1 L325.0,273.5 L325.5,272.1 L326.0,271.2 L326.5,270.3 L327.0,269.5 L327.5,268.4 L328.0,267.6 L328.5,266.3 L329.0,265.3 L329.5,264.2 L330.0,263.1 L330.5,261.8 L331.0,260.8 L331.5,259.8 L332.0,258.9 L332.5,257.8 L333.0,256.8 L333.5,255.8 L334.0,254.5 L334.5,252.8 L335.0,251.8 L335.5,250.8 L336.0,249.3 L336.5,248.1 L337.0,247.7 L337.5,246.3 L338.0,245.3 L338.5,244.5 L339.0,243.5 L339.5,241.6 L340.0,240.0 L340.5,238.0 L341.0,235.8 L341.5,233.8 L342.0,232.1 L342.5,230.4 L343.0,229.1 L343.5,227.4 L344.0,225.6 L344.5,224.0 L345.0,222.5 L345.5,220.9 L346.0,219.6 L346.5,218.1 L347.0,216.6 L347.5,214.8 L348.0,213.0 L348.5,211.7 L349.0,210.5 L349.5,209.3 L350.0,208.0 L350.5,207.1 L351.0,205.8 L351.5,204.6 L352.0,203.1 L352.5,202.3 L353.0,201.6 L353.5,200.8 L354.0,199.9 L354.5,199.4 L355.0,198.6 L355.5,197.0 L356.0,195.9 L356.5,195.1 L357.0,194.3 L357.5,193.5 L358.0,193.2 L358.5,192.3 L359.0,191.2 L359.5,190.0 L360.0,188.4 L360.5,187.0 L361.0,185.8 L361.5,184.8 L362.0,183.2 L362.5,181.9 L363.0,180.4 L363.5,179.0 L364.0,177.0 L364.5,175.8 L365.0,174.0 L365.5,172.4 L366.0,170.4 L366.5,169.0 L367.0,167.3 L367.5,165.5 L368.0,163.7 L368.5,162.1 L369.0,160.2 L369.5,157.9 L370.0,156.7 L370.5,155.3 L371.0,153.6 L371.5,152.0 L372.0,150.9 L372.5,149.0 L373.0,147.6 L373.5,145.9 L374.0,144.4 L374.5,142.9 L375.0,141.6 L375.5,140.4 L376.0,139.6 L376.5,138.6 L377.0,137.6 L377.5,136.8 L378.0,136.0 L378.5,135.1 L379.0,134.4 L379.5,133.9 L380.0,133.8 L380.5,133.3 L381.0,132.8 L381.5,132.3 L382.0,131.8 L382.5,130.7 L383.0,129.5 L383.5,128.9 L384.0,128.3 L384.5,127.2 L385.0,126.3 L385.5,125.5 L386.0,124.9 L386.5,123.8 L387.0,123.1 L387.5,122.5 L388.0,121.9 L388.5,120.6 L389.0,119.6 L389.5,118.1 L390.0,116.6 L390.5,114.9 L391.0,113.7 L391.5,112.2 L392.0,110.8 L392.5,109.3 L393.0,108.1 L393.5,106.5 L394.0,104.8 L394.5,103.3 L395.0,101.8 L395.5,100.9 L396.0,99.4 L396.5,98.1 L397.0,96.9 L397.5,95.8 L398.0,93.6 L398.5,91.8 L399.0,90.5 L399.5,89.0 L400.0,87.3 L400.5,85.9 L401.0,85.1 L401.5,84.0 L402.0,83.0 L402.5,82.0 L403.0,80.8 L403.5,79.8 L404.0,78.7 L404.5,78.1 L405.0,77.6 L405.5,77.5 L406.0,76.7 L406.5,76.5 L407.0,76.0 L407.5,75.6 L408.0,75.3 L408.5,75.4 L409.0,74.7 L409.5,74.9 L410.0,74.8 L410.5,74.9 L411.0,75.1 L411.5,75.3 L412.0,74.4 L412.5,73.8 L413.0,73.0 L413.5,72.1 L414.0,71.7 L414.5,71.1 L415.0,70.7 L415.5,70.0 L416.0,69.4 L416.5,68.5 L417.0,67.9 L417.5,66.9 L418.0,66.0 L418.5,64.7 L419.0,63.2 L419.5,62.0 L420.0,61.2 L420.5,60.5 L421.0,59.6 L421.5,59.0 L422.0,57.7 L422.5,56.6 L423.0,55.2 L423.5,54.1 L424.0,53.0 L424.5,52.3 L425.0,51.2 L425.5,50.5 L426.0,49.6 L426.5,49.0 L427.0,48.9 L427.5,48.5 L428.0,48.1 L428.5,48.1 L429.0,48.1 L429.5,47.3 L430.0,47.2 L430.5,47.4 L431.0,47.4 L431.5,47.3 L432.0,48.0 L432.5,48.1 L433.0,48.2 L433.5,48.3 L434.0,48.9 L434.5,48.6 L435.0,49.0 L435.5,49.3 L436.0,50.0 L436.5,50.3 L437.0,51.5 L437.5,51.8 L438.0,52.6 L438.5,53.0 L439.0,53.3 L439.5,53.6 L440.0,54.2 L440.5,54.1 L441.0,54.5 L441.5,54.6 L442.0,54.5 L442.5,54.9 L443.0,55.4 L443.5,55.8 L444.0,55.9 L444.5,55.6 L445.0,55.2 L445.5,54.8 L446.0,54.0 L446.5,54.0 L447.0,54.1 L447.5,53.8 L448.0,54.2 L448.5,54.5 L449.0,54.6 L449.5,54.9 L450.0,55.6 L450.5,55.7 L451.0,56.2 L451.5,56.5 L452.0,56.9 L452.5,57.3 L453.0,57.4 L453.5,57.7 L454.0,58.1 L454.5,58.7 L455.0,59.0 L455.5,60.4 L456.0,61.3 L456.5,62.1 L457.0,62.7 L457.5,64.1 L458.0,65.0 L458.5,66.1 L459.0,67.8 L459.5,69.5 L460.0,71.3 L460.5,72.8 L461.0,74.6 L461.5,76.4 L462.0,78.7 L462.5,80.0 L463.0,81.7 L463.5,83.2 L464.0,84.9 L464.5,85.8 L465.0,87.5 L465.5,89.1 L466.0,90.6 L466.5,91.7 L467.0,93.2 L467.5,94.1 L468.0,95.0 L468.5,96.2 L469.0,97.5 L469.5,98.6 L470.0,99.7 L470.5,101.0 L471.0,102.4 L471.5,103.7 L472.0,105.1 L472.5,106.7 L473.0,108.3 L473.5,109.6 L474.0,110.7 L474.5,112.2 L475.0,114.2 L475.5,115.7 L476.0,117.6 L476.5,119.3 L477.0,121.2 L477.5,122.4 L478.0,123.9 L478.5,125.8 L479.0,127.7 L479.5,129.1 L480.0,131.0 L480.5,132.9 L481.0,134.5 L481.5,136.2 L482.0,137.9 L482.5,140.0 L483.0,142.0 L483.5,144.0 L484.0,146.7 L484.5,149.4 L485.0,152.0 L485.5,154.1 L486.0,156.7 L486.5,159.3 L487.0,161.8 L487.5,164.1 L488.0,166.7 L488.5,169.2 L489.0,171.0 L489.5,173.1 L490.0,175.3 L490.5,177.6 L491.0,179.3 L491.5,181.6 L492.0,183.6 L492.5,185.4 L493.0,187.2 L493.5,188.9 L494.0,190.6 L494.5,192.6 L495.0,194.1 L495.5,195.8 L496.0,197.9 L496.5,199.4 L497.0,200.9 L497.5,202.5 L498.0,204.5 L498.5,206.4 L499.0,208.6 L499.5,210.2 L500.0,212.1 L500.5,213.5 L501.0,214.6 L501.5,216.1 L502.0,217.5 L502.5,219.1 L503.0,220.7 L503.5,222.6 L504.0,223.9 L504.5,225.7 L505.0,227.3 L505.5,229.1 L506.0,230.6 L506.5,232.4 L507.0,234.2 L507.5,235.5 L508.0,237.4 L508.5,239.4 L509.0,241.2 L509.5,243.2 L510.0,245.7 L510.5,247.4 L511.0,249.0 L511.5,250.9 L512.0,253.1 L512.5,254.6 L513.0,257.0 L513.5,259.1 L514.0,260.9 L514.5,263.0 L515.0,265.4 L515.5,267.0 L516.0,269.2 L516.5,271.6 L517.0,273.7 L517.5,275.6 L518.0,277.9 L518.5,280.1 L519.0,281.6 L519.5,283.2 L520.0,285.1 L520.5,286.6 L521.0,288.1 L521.5,289.8 L522.0,291.4 L522.5,292.9 L523.0,294.4 L523.5,296.3 L524.0,297.9 L524.5,299.6 L525.0,301.4 L525.5,303.1 L526.0,304.8 L526.5,306.1 L527.0,307.5 L527.5,308.7 L528.0,310.3 L528.5,311.6 L529.0,312.8 L529.5,313.9 L530.0,315.5 L530.5,316.6 L531.0,317.8 L531.5,319.5 L532.0,321.2 L532.5,322.5 L533.0,323.7 L533.5,325.0 L534.0,325.9 L534.5,327.2 L535.0,328.2 L535.5,329.6 L536.0,330.7 L536.5,332.2 L537.0,333.4 L537.5,334.6 L538.0,335.5 L538.5,336.4 L539.0,337.8 L539.5,339.1 L540.0,340.7 L540.5,342.0 L541.0,343.7 L541.5,344.9 L542.0,346.0 L542.5,347.1 L543.0,348.5 L543.5,349.4 L544.0,350.5 L544.5,351.7 L545.0,352.8 L545.5,353.6 L546.0,355.0 L546.5,356.1 L547.0,357.4 L547.5,358.4 L548.0,359.8 L548.5,360.8 L549.0,362.0 L549.5,363.4 L550.0,364.8 L550.5,366.2 L551.0,367.5 L551.5,368.6 L552.0,369.2 L552.5,370.4 L553.0,371.1 L553.5,372.1 L554.0,373.3 L554.5,374.1 L555.0,375.1 L555.5,375.7 L556.0,376.9 L556.5,377.9 L557.0,379.2 L557.5,380.3 L558.0,381.9 L558.5,382.6 L559.0,383.5 L559.5,384.5 L560.0,385.2 L560.5,386.1 L561.0,387.7 L561.5,389.0 L562.0,390.4 L562.5,391.6 L563.0,392.9 L563.5,393.7 L564.0,394.9 L564.5,396.0 L565.0,397.7 L565.5,398.8 L566.0,399.9 L566.5,400.8 L567.0,401.9 L567.5,402.6 L568.0,403.7 L568.5,404.7 L569.0,406.3 L569.5,406.8 L570.0,407.8 L570.5,408.8 L571.0,409.7 L571.5,410.1 L572.0,411.4 L572.5,412.1 L573.0,412.8 L573.5,414.3 L574.0,415.5 L574.5,416.2 L575.0,417.1 L575.5,417.8 L576.0,418.3 L576.5,418.7 L577.0,419.5 L577.5,420.6 L578.0,421.6 L578.5,422.0 L579.0,422.7 L579.5,423.2 L580.0,423.6 L580.5,423.6 L581.0,424.5 L581.5,425.2 L582.0,426.3 L582.5,427.4 L583.0,428.7 L583.5,428.9 L584.0,429.8 L584.5,430.5 L585.0,430.6 L585.5,430.7 L586.0,431.5 L586.5,431.6 L587.0,432.2 L587.5,432.4 L588.0,432.9 L588.5,433.4 L589.0,434.1 L589.5,434.4 L590.0,435.4 L590.5,436.1 L591.0,436.8 L591.5,436.9 L592.0,437.3 L592.5,437.6 L593.0,438.1 L593.5,438.3 L594.0,439.0 L594.5,439.3 L595.0,439.9 L595.5,440.4 L596.0,440.6 L596.5,441.5 L597.0,442.5 L597.5,442.4 L598.0,442.7 L598.5,443.7 L599.0,443.7 L599.5,443.7 L600.0,444.2 L600.5,444.4 L601.0,444.2 L601.5,444.2 L602.0,444.7 L602.5,444.9 L603.0,445.3 L603.5,445.4 L604.0,445.8 L604.5,445.8 L605.0,446.2 L605.5,446.9 L606.0,447.5 L606.5,448.0 L607.0,448.6 L607.5,449.0 L608.0,449.1 L608.5,449.3 L609.0,449.8 L609.5,449.9 L610.0,450.5 L610.5,450.9 L611.0,451.2 L611.5,451.4 L612.0,451.9 L612.5,452.1 L613.0,452.3 L613.5,453.1 L614.0,453.4 L614.5,453.5 L615.0,453.8 L615.5,453.9 L616.0,454.1 L616.5,454.9 L617.0,455.9 L617.5,456.2 L618.0,456.8 L618.5,457.6 L619.0,457.9 L619.5,458.2 L620.0,459.0 L620.5,460.1 L621.0,460.4 L621.5,460.7 L622.0,461.2 L622.5,461.5 L623.0,461.3 L623.5,461.2 L624.0,461.6 L624.5,461.7 L625.0,461.9 L625.5,462.4 L626.0,463.5 L626.5,463.7 L627.0,464.2 L627.5,464.5 L628.0,464.9 L628.5,465.0 L629.0,465.5 L629.5,465.7 L630.0,465.7 L630.5,465.8 L631.0,466.0 L631.5,466.5 L632.0,466.8 L632.5,467.4 L633.0,467.9 L633.5,468.3 L634.0,468.5 L634.5,469.0 L635.0,469.0 L635.5,469.1 L636.0,469.7 L636.5,469.7 L637.0,470.0 L637.5,470.8 L638.0,471.3 L638.5,471.1 L639.0,471.9 L639.5,472.3 L640.0,472.6 L640.5,472.7 L641.0,473.2 L641.5,473.4 L642.0,473.6 L642.5,474.0 L643.0,474.9 L643.5,475.4 L644.0,475.9 L644.5,476.5 L645.0,477.1 L645.5,477.6 L646.0,478.0 L646.5,478.4 L647.0,478.6 L647.5,478.9 L648.0,478.8 L648.5,478.9 L649.0,479.2 L649.5,479.5 L650.0,479.3 L650.5,479.8 L651.0,480.1 L651.5,480.7 L652.0,481.3 L652.5,482.0 L653.0,482.4 L653.5,482.6 L654.0,482.8 L654.5,482.9 L655.0,483.4 L655.5,484.1 L656.0,484.5 L656.5,484.4 L657.0,484.6 L657.5,484.5 L658.0,484.2 L658.5,484.8 L659.0,485.4 L659.5,485.5 L660.0,486.2 L660.5,487.0 L661.0,486.9 L661.5,487.0 L662.0,487.5 L662.5,487.7 L663.0,487.8 L663.5,488.3 L664.0,489.0 L664.5,489.5 L665.0,490.0 L665.5,490.2 L666.0,489.9 L666.5,489.9 L667.0,489.9 L667.5,489.8 L668.0,490.1 L668.5,490.6 L669.0,490.7 L669.5,491.1 L670.0,491.5 L670.5,491.6 L671.0,492.1 L671.5,492.7 L672.0,492.7 L672.5,492.4 L673.0,492.4 L673.5,492.3 L674.0,492.2 L674.5,492.4 L675.0,493.3 L675.5,493.6 L676.0,493.7 L676.5,494.5 L677.0,494.6 L677.5,494.3 L678.0,494.7 L678.5,495.2 L679.0,494.8 L679.5,495.3 L680.0,495.7 L680.5,495.6 L681.0,495.8 L681.5,496.3 L682.0,496.2 L682.5,496.5 L683.0,496.9 L683.5,497.6 L684.0,497.5 L684.5,498.1 L685.0,498.2 L685.5,498.4 L686.0,498.1 L686.5,498.6 L687.0,498.7 L687.5,499.0 L688.0,499.0 L688.5,498.9 L689.0,499.0 L689.5,499.0 L690.0,499.3 L690.5,499.6 L691.0,500.1 L691.5,500.4 L692.0,500.4 L692.5,499.9 L693.0,499.7 L693.5,499.3 L694.0,499.4 L694.5,499.3 L695.0,499.9 L695.5,500.4 L696.0,501.1 L696.5,501.1 L697.0,501.3 L697.5,501.1 L698.0,501.1 L698.5,500.9 L699.0,500.6 L699.5,500.7 L700.0,501.2 L700.5,500.9 L701.0,501.0 L701.5,501.1 L702.0,501.2 L702.5,501.2 L703.0,501.6 L703.5,501.8 L704.0,501.8 L704.5,502.1 L705.0,501.9 L705.5,502.2 L706.0,502.2 L706.5,502.2 L707.0,501.9 L707.5,502.2 L708.0,502.6 L708.5,502.8 L709.0,503.5 L709.5,503.5 L710.0,503.9 L710.5,504.1 L711.0,504.2 L711.5,504.3 L712.0,504.4 L712.5,504.4 L713.0,504.8 L713.5,505.1 L714.0,505.5 L714.5,506.1 L715.0,505.9 L715.5,505.8 L716.0,505.5 L716.5,505.4 L717.0,505.5 L717.5,506.0 L718.0,506.0 L718.5,506.4 L719.0,506.5 L719.5,506.3 L720.0,506.3 L720.5,506.2 L721.0,506.0 L721.5,506.0 L722.0,506.3 L722.5,506.0 L723.0,506.0 L723.5,506.0 L724.0,506.4 L724.5,506.7 L725.0,507.6 L725.5,507.7 L726.0,508.0 L726.5,508.2 L727.0,508.2 L727.5,507.9 L728.0,508.6 L728.5,508.8 L729.0,508.5 L729.5,508.3 L730.0,508.6 L730.5,508.4 L731.0,508.3 L731.5,508.4 L732.0,508.8 L732.5,509.0 L733.0,508.9 L733.5,509.4 L734.0,509.7 L734.5,509.4 L735.0,509.3 L735.5,509.6 L736.0,509.4 L736.5,508.9 L737.0,509.3 L737.5,509.6 L738.0,509.9 L738.5,509.6 L739.0,510.6 L739.5,510.5 L740.0,510.6 L740.5,510.6 L741.0,511.3 L741.5,510.9 L742.0,510.9 L742.5,510.9 L743.0,510.5 L743.5,509.9 L744.0,510.5 L744.5,510.9 L745.0,511.2 L745.5,511.2 L746.0,512.0 L746.5,511.8 L747.0,512.0 L747.5,511.7 L748.0,511.7 L748.5,511.4 L749.0,510.7 L749.5,510.1 L750.0,510.2 L750.5,510.3 L751.0,510.4 L751.5,510.8 L752.0,511.6 L752.5,511.9 L753.0,512.2 L753.5,512.5 L754.0,512.4 L754.5,512.1 L755.0,512.1 L755.5,511.9 L756.0,511.7 L756.5,511.6 L757.0,511.8 L757.5,512.0 L758.0,512.2 L758.5,512.4 L759.0,512.6 L759.5,512.4 L760.0,511.9 L760.5,512.4 L761.0,512.9 L761.5,513.3 L762.0,513.4 L762.5,513.9 L763.0,513.6 L763.5,513.4 L764.0,513.4 L764.5,513.7 L765.0,513.8 L765.5,513.8 L766.0,513.7 L766.5,513.3 L767.0,513.3 L767.5,513.0 L768.0,513.1 L768.5,513.1 L769.0,513.5 L769.5,513.8 L770.0,513.8 L770.5,513.8 L771.0,513.9 L771.5,514.1 L772.0,514.4 L772.5,514.9 L773.0,515.1 L773.5,515.6 L774.0,515.3 L774.5,515.3 L775.0,515.1 L775.5,514.7 L776.0,515.0 L776.5,515.7 L777.0,515.2 L777.5,515.5 L778.0,516.0 L778.5,515.6 L779.0,515.1 L779.5,515.2 L780.0,515.3 L780.5,515.5 L781.0,515.8 L781.5,516.2 L782.0,516.8 L782.5,516.7 L783.0,516.7 L783.5,516.2 L784.0,516.0 L784.5,515.9 L785.0,515.9 L785.5,516.0 L786.0,516.4 L786.5,516.5 L787.0,516.3 L787.5,516.4 L788.0,516.3 L788.5,516.5 L789.0,516.9 L789.5,516.9 L790.0,516.9 L790.5,517.1 L791.0,517.0 L791.5,517.1 L792.0,517.8 L792.5,518.2 L793.0,518.2 L793.5,518.3 L794.0,518.0 L794.5,517.3 L795.0,517.0 L795.5,517.0 L796.0,517.0 L796.5,517.4 L797.0,517.6 L797.5,517.8 L798.0,517.7 L798.5,518.1 L799.0,518.2 L799.5,518.6 L800.0,518.9 L800.5,519.5 L801.0,519.2 L801.5,519.3 L802.0,519.5 L802.5,519.2 L803.0,519.2 L803.5,519.6 L804.0,519.6 L804.5,519.3 L805.0,519.8 L805.5,519.5 L806.0,519.3 L806.5,519.1 L807.0,518.9 L807.5,518.6 L808.0,518.8 L808.5,518.8 L809.0,519.1 L809.5,519.0 L810.0,519.6 L810.5,519.9 L811.0,520.0 L811.5,520.1 L812.0,520.6" stroke="#f0f"/></g><rect x="49.0" y="20.3" width="764.4" height="562.6" fill="none" stroke="#000" stroke-width="3.3"/><path d="M58.4,582.9 V589.4 M110.3,582.9 V595.4 M162.2,582.9 V589.4 M214.1,582.9 V595.4 M266.0,582.9 V589.4 M317.9,582.9 V595.4 M369.9,582.9 V589.4 M421.8,582.9 V595.4 M473.7,582.9 V589.4 M525.6,582.9 V595.4 M577.5,582.9 V589.4 M629.4,582.9 V595.4 M681.3,582.9 V589.4 M733.2,582.9 V595.4 M785.2,582.9 V589.4" stroke="#000" stroke-width="3.1" fill="none"/><g font-family="'Liberation Sans', Arial, sans-serif" font-size="24" text-anchor="middle" fill="#000"><text x="109.0" y="621.3">9300</text><text x="212.8" y="621.3">9325</text><text x="316.6" y="621.3">9350</text><text x="420.5" y="621.3">9375</text><text x="524.3" y="621.3">9400</text><text x="628.1" y="621.3">9425</text><text x="731.9" y="621.3">9450</text></g><text x="299.5" y="672.3" font-family="'Liberation Sans', Arial, sans-serif" font-size="30.8" fill="#000">Wavenumber (cm<tspan font-size="22" dy="-10">-1</tspan><tspan dy="10">)</tspan></text><text transform="translate(28.6,287.4) rotate(-90)" text-anchor="middle" font-family="'Liberation Sans', Arial, sans-serif" font-size="30.5" fill="#000">Intensity</text><text x="4" y="30.8" font-family="'Liberation Sans', Arial, sans-serif" font-size="34" letter-spacing="1.5" fill="#000">a)</text><g font-family="'Liberation Sans', Arial, sans-serif" font-size="26.8" fill="#000"><text x="68.5" y="62.3">YVO<tspan font-size="19.7" dy="10">4</tspan><tspan dy="-10">:Nd</tspan><tspan font-size="19.7" dy="-10.1">3+</tspan><tspan dy="10.1"> 2.4 at.% NPs</tspan></text><line x1="113.6" y1="97.9" x2="183.5" y2="97.9" stroke="#000" stroke-width="3.8"/><text x="197.5" y="104.5">123 K</text><line x1="113.6" y1="134.3" x2="183.5" y2="134.3" stroke="#f00" stroke-width="3.8"/><text x="197.5" y="144.5">303 K</text><line x1="113.6" y1="170.8" x2="183.5" y2="170.8" stroke="#00f" stroke-width="3.8"/><text x="197.5" y="181.0">398 K</text><line x1="113.6" y1="207.2" x2="183.5" y2="207.2" stroke="#f0f" stroke-width="3.8"/><text x="197.5" y="217.4">873 K</text></g><g fill="#000"><rect x="991.1" y="72.1" width="13.6" height="13.6"/><rect x="1010.6" y="82.4" width="13.6" height="13.6"/><rect x="1030.1" y="82.4" width="13.6" height="13.6"/><rect x="1049.5" y="92.7" width="13.6" height="13.6"/><rect x="1069.0" y="103.1" width="13.6" height="13.6"/><rect x="1088.5" y="123.7" width="13.6" height="13.6"/><rect x="1107.9" y="134.0" width="13.6" height="13.6"/><rect x="1127.4" y="144.3" width="13.6" height="13.6"/><rect x="1131.3" y="144.3" width="13.6" height="13.6"/><rect x="1146.9" y="164.9" width="13.6" height="13.6"/><rect x="1166.3" y="175.2" width="13.6" height="13.6"/><rect x="1185.8" y="185.5" width="13.6" height="13.6"/><rect x="1205.3" y="206.1" width="13.6" height="13.6"/><rect x="1224.7" y="216.4" width="13.6" height="13.6"/><rect x="1244.2" y="226.8" width="13.6" height="13.6"/><rect x="1263.6" y="237.1" width="13.6" height="13.6"/><rect x="1283.1" y="257.7" width="13.6" height="13.6"/><rect x="1302.6" y="268.0" width="13.6" height="13.6"/><rect x="1322.0" y="288.6" width="13.6" height="13.6"/><rect x="1341.5" y="298.9" width="13.6" height="13.6"/><rect x="1361.0" y="309.2" width="13.6" height="13.6"/><rect x="1380.4" y="329.8" width="13.6" height="13.6"/><rect x="1399.9" y="350.4" width="13.6" height="13.6"/><rect x="1419.4" y="360.8" width="13.6" height="13.6"/><rect x="1438.8" y="381.4" width="13.6" height="13.6"/><rect x="1458.3" y="391.7" width="13.6" height="13.6"/><rect x="1477.8" y="412.3" width="13.6" height="13.6"/><rect x="1497.2" y="422.6" width="13.6" height="13.6"/><rect x="1516.7" y="432.9" width="13.6" height="13.6"/><rect x="1536.2" y="453.5" width="13.6" height="13.6"/><rect x="1555.6" y="474.1" width="13.6" height="13.6"/><rect x="1575.1" y="494.8" width="13.6" height="13.6"/></g><path d="M997.9,79.4 L1002.8,80.9 L1007.8,82.5 L1012.7,84.2 L1017.6,86.1 L1022.5,88.0 L1027.4,90.1 L1032.3,92.2 L1037.2,94.4 L1042.1,96.7 L1047.0,99.1 L1051.9,101.6 L1056.8,104.1 L1061.7,106.7 L1066.6,109.4 L1071.5,112.1 L1076.5,114.9 L1081.4,117.8 L1086.3,120.7 L1091.2,123.6 L1096.1,126.6 L1101.0,129.6 L1105.9,132.7 L1110.8,135.8 L1115.7,138.9 L1120.6,142.1 L1125.5,145.3 L1130.4,148.5 L1135.3,151.8 L1140.2,155.1 L1145.2,158.4 L1150.1,161.8 L1155.0,165.2 L1159.9,168.5 L1164.8,172.0 L1169.7,175.4 L1174.6,178.9 L1179.5,182.3 L1184.4,185.8 L1189.3,189.3 L1194.2,192.9 L1199.1,196.4 L1204.0,200.0 L1208.9,203.6 L1213.9,207.1 L1218.8,210.7 L1223.7,214.4 L1228.6,218.0 L1233.5,221.6 L1238.4,225.3 L1243.3,228.9 L1248.2,232.6 L1253.1,236.3 L1258.0,240.0 L1262.9,243.7 L1267.8,247.4 L1272.7,251.1 L1277.6,254.8 L1282.6,258.6 L1287.5,262.3 L1292.4,266.1 L1297.3,269.8 L1302.2,273.6 L1307.1,277.3 L1312.0,281.1 L1316.9,284.9 L1321.8,288.7 L1326.7,292.5 L1331.6,296.3 L1336.5,300.1 L1341.4,303.9 L1346.3,307.7 L1351.3,311.5 L1356.2,315.4 L1361.1,319.2 L1366.0,323.0 L1370.9,326.9 L1375.8,330.7 L1380.7,334.6 L1385.6,338.4 L1390.5,342.3 L1395.4,346.1 L1400.3,350.0 L1405.2,353.9 L1410.1,357.7 L1415.0,361.6 L1420.0,365.5 L1424.9,369.4 L1429.8,373.3 L1434.7,377.2 L1439.6,381.0 L1444.5,384.9 L1449.4,388.8 L1454.3,392.7 L1459.2,396.6 L1464.1,400.5 L1469.0,404.4 L1473.9,408.4 L1478.8,412.3 L1483.7,416.2 L1488.7,420.1 L1493.6,424.0 L1498.5,427.9 L1503.4,431.9 L1508.3,435.8 L1513.2,439.7 L1518.1,443.6 L1523.0,447.6 L1527.9,451.5 L1532.8,455.4 L1537.7,459.4 L1542.6,463.3 L1547.5,467.3 L1552.4,471.2 L1557.4,475.1 L1562.3,479.1 L1567.2,483.0 L1572.1,487.0 L1577.0,490.9 L1581.9,494.9" fill="none" stroke="#f00" stroke-width="4" stroke-opacity="1"/><path d="M997.9,69.6 L1002.8,72.6 L1007.8,75.5 L1012.7,78.5 L1017.6,81.5 L1022.5,84.5 L1027.4,87.6 L1032.3,90.6 L1037.2,93.6 L1042.1,96.6 L1047.0,99.7 L1051.9,102.7 L1056.8,105.8 L1061.7,108.9 L1066.6,112.0 L1071.5,115.0 L1076.5,118.1 L1081.4,121.2 L1086.3,124.4 L1091.2,127.5 L1096.1,130.6 L1101.0,133.7 L1105.9,136.9 L1110.8,140.1 L1115.7,143.2 L1120.6,146.4 L1125.5,149.6 L1130.4,152.8 L1135.3,156.0 L1140.2,159.2 L1145.2,162.4 L1150.1,165.7 L1155.0,168.9 L1159.9,172.2 L1164.8,175.4 L1169.7,178.7 L1174.6,182.0 L1179.5,185.3 L1184.4,188.6 L1189.3,191.9 L1194.2,195.2 L1199.1,198.6 L1204.0,201.9 L1208.9,205.3 L1213.9,208.7 L1218.8,212.1 L1223.7,215.5 L1228.6,218.9 L1233.5,222.3 L1238.4,225.7 L1243.3,229.2 L1248.2,232.6 L1253.1,236.1 L1258.0,239.6 L1262.9,243.1 L1267.8,246.6 L1272.7,250.1 L1277.6,253.6 L1282.6,257.2 L1287.5,260.7 L1292.4,264.3 L1297.3,267.9 L1302.2,271.5 L1307.1,275.1 L1312.0,278.7 L1316.9,282.3 L1321.8,286.0 L1326.7,289.6 L1331.6,293.3 L1336.5,297.0 L1341.4,300.7 L1346.3,304.4 L1351.3,308.2 L1356.2,311.9 L1361.1,315.7 L1366.0,319.4 L1370.9,323.2 L1375.8,327.0 L1380.7,330.8 L1385.6,334.7 L1390.5,338.5 L1395.4,342.4 L1400.3,346.3 L1405.2,350.1 L1410.1,354.1 L1415.0,358.0 L1420.0,361.9 L1424.9,365.9 L1429.8,369.8 L1434.7,373.8 L1439.6,377.8 L1444.5,381.8 L1449.4,385.9 L1454.3,389.9 L1459.2,394.0 L1464.1,398.1 L1469.0,402.2 L1473.9,406.3 L1478.8,410.4 L1483.7,414.5 L1488.7,418.7 L1493.6,422.9 L1498.5,427.1 L1503.4,431.3 L1508.3,435.5 L1513.2,439.8 L1518.1,444.0 L1523.0,448.3 L1527.9,452.6 L1532.8,456.9 L1537.7,461.3 L1542.6,465.6 L1547.5,470.0 L1552.4,474.4 L1557.4,478.8 L1562.3,483.2 L1567.2,487.7 L1572.1,492.1 L1577.0,496.6 L1581.9,501.1" fill="none" stroke="#00f" stroke-width="3.8" stroke-dasharray="9 3.4"/><rect x="941.0" y="38.7" width="700.8" height="515.5" fill="none" stroke="#000" stroke-width="3.3"/><path d="M941.1,554.2 V560.7 M980.0,554.2 V566.0 M1019.0,554.2 V560.7 M1057.9,554.2 V566.0 M1096.8,554.2 V560.7 M1135.8,554.2 V566.0 M1174.7,554.2 V560.7 M1213.6,554.2 V566.0 M1252.5,554.2 V560.7 M1291.5,554.2 V566.0 M1330.4,554.2 V560.7 M1369.3,554.2 V566.0 M1408.3,554.2 V560.7 M1447.2,554.2 V566.0 M1486.1,554.2 V560.7 M1525.0,554.2 V566.0 M1564.0,554.2 V560.7 M1602.9,554.2 V566.0 M1641.8,554.2 V560.7 M941.0,554.0 H929.0 M941.0,502.5 H934.6 M941.0,450.9 H929.0 M941.0,399.4 H934.6 M941.0,347.8 H929.0 M941.0,296.3 H934.6 M941.0,244.8 H929.0 M941.0,193.2 H934.6 M941.0,141.7 H929.0 M941.0,90.1 H934.6 M941.0,38.6 H929.0" stroke="#000" stroke-width="3.1" fill="none"/><g font-family="'Liberation Sans', Arial, sans-serif" font-size="24" fill="#000"><text x="981.0" y="589.5" text-anchor="middle">100</text><text x="1058.9" y="589.5" text-anchor="middle">200</text><text x="1136.8" y="589.5" text-anchor="middle">300</text><text x="1214.6" y="589.5" text-anchor="middle">400</text><text x="1292.5" y="589.5" text-anchor="middle">500</text><text x="1370.3" y="589.5" text-anchor="middle">600</text><text x="1448.2" y="589.5" text-anchor="middle">700</text><text x="1526.0" y="589.5" text-anchor="middle">800</text><text x="1603.9" y="589.5" text-anchor="middle">900</text><text x="925.6" y="560.4" text-anchor="end">9380</text><text x="925.6" y="457.3" text-anchor="end">9385</text><text x="925.6" y="354.2" text-anchor="end">9390</text><text x="925.6" y="251.2" text-anchor="end">9395</text><text x="925.6" y="148.1" text-anchor="end">9400</text><text x="925.6" y="45.0" text-anchor="end">9405</text></g><text x="1260" y="632.2" font-family="'Liberation Sans', Arial, sans-serif" font-size="31" fill="#000">T (K)</text><text transform="translate(854.4,367.6) rotate(-90)" font-family="'Liberation Sans', Arial, sans-serif" font-size="30.8" fill="#000">E (cm<tspan font-size="22" dy="-10">-1</tspan><tspan dy="10">)</tspan></text><text x="829" y="30.6" font-family="'Liberation Sans', Arial, sans-serif" font-size="34" letter-spacing="1.5" fill="#000">b)</text><g font-family="'Liberation Sans', Arial, sans-serif" font-size="27" fill="#000"><line x1="1372.4" y1="63.9" x2="1432" y2="63.9" stroke="#00f" stroke-width="3.6" stroke-dasharray="9 3.4"/><text x="1444.5" y="72.6">Equation (3)</text><text x="1488.9" y="116.9" text-anchor="middle">v<tspan font-size="22" dy="8.8">0</tspan><tspan dy="-8.8"> = 9445 ± 6</tspan></text><text x="1487.2" y="159.8" text-anchor="middle">A = -40 ± 6</text><text x="1496.3" y="196.7" text-anchor="middle">R<tspan font-size="22" dy="8.8">0</tspan><tspan dy="-8.8"> = (5.4 ± 0.7)·10</tspan><tspan font-size="20" dy="-9.9">-4</tspan></text><text x="1494.7" y="247.7" text-anchor="middle">Adj. R<tspan font-size="18.5" dy="-8.7">2</tspan><tspan dy="8.7"> = 0.99872</tspan></text><line x1="974.2" y1="329.4" x2="1034.1" y2="329.4" stroke="#f00" stroke-width="4"/><text x="1044.7" y="336.2">Equation (2)</text><text x="1087.2" y="380.6" text-anchor="middle">v<tspan font-size="22" dy="8.8">0</tspan><tspan dy="-8.8"> = 9403.5 ± 0.2</tspan></text><text x="1076.6" y="420.8" text-anchor="middle"><tspan font-family="'Liberation Serif', 'Times New Roman', serif" font-size="30">α</tspan> = -55 ± 5</text><text x="1084.1" y="461.5" text-anchor="middle"><tspan font-family="'Liberation Serif', 'Times New Roman', serif" font-size="30">θ</tspan><tspan font-size="22" dy="8.8">D</tspan><tspan dy="-8.8"> = 601 ± 42</tspan></text><text x="1087.9" y="514.2" text-anchor="middle">Adj. R<tspan font-size="18.5" dy="-8.7">2</tspan><tspan dy="8.7"> = 0.99882</tspan></text></g></svg>
</body></html>
